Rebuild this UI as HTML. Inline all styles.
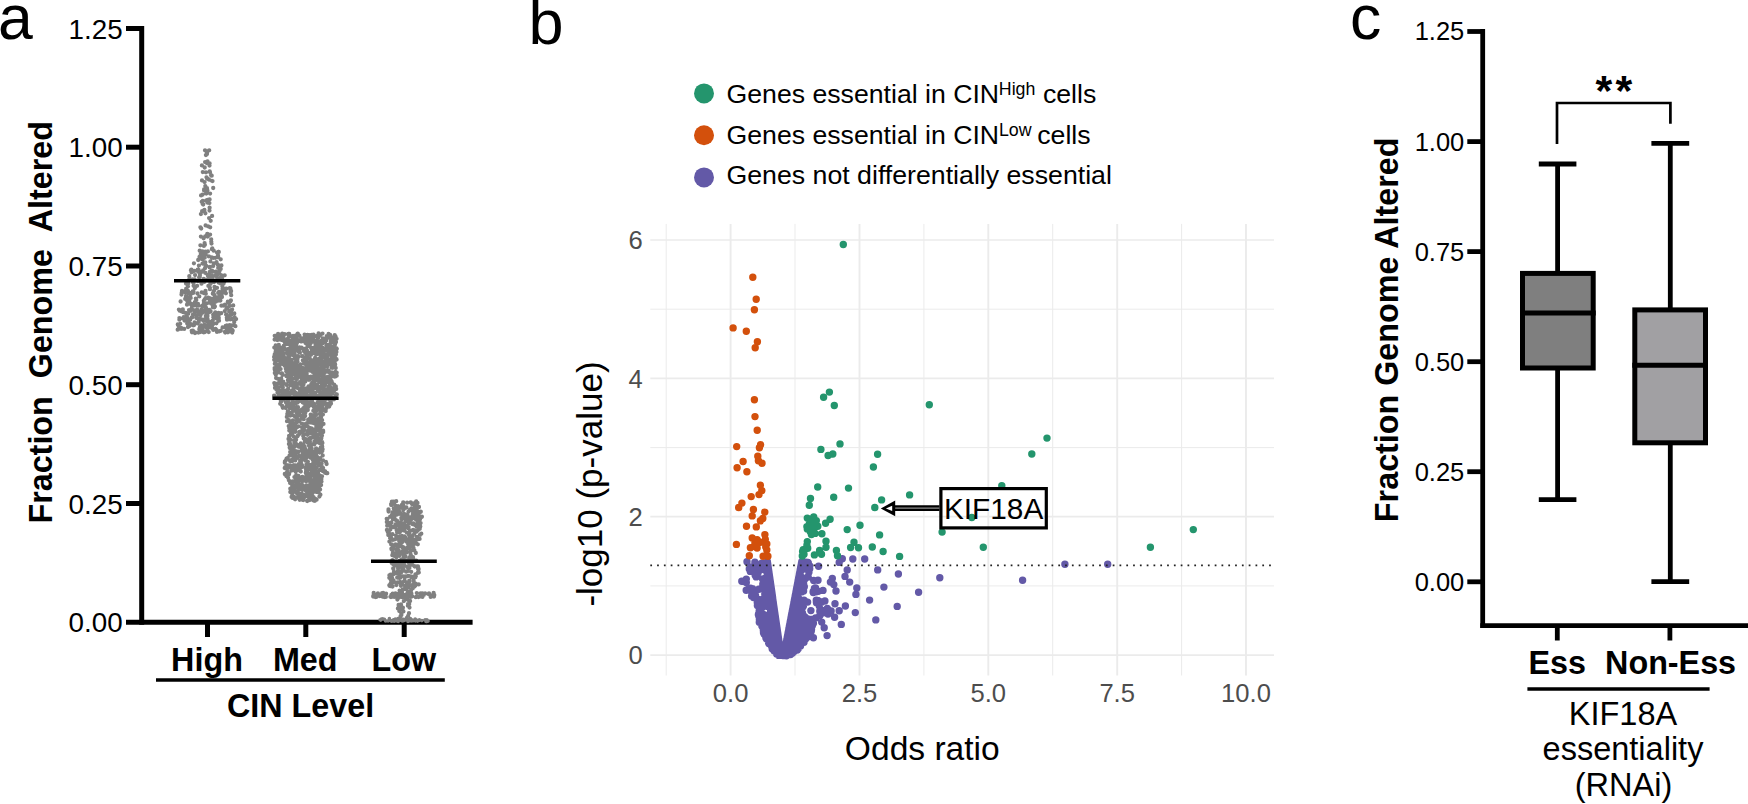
<!DOCTYPE html>
<html lang="en"><head><meta charset="utf-8"><title>Figure</title>
<style>html,body{margin:0;padding:0;background:#fff;overflow:hidden}svg{display:block}text{font-family:"Liberation Sans", Arial, Helvetica, sans-serif;fill:#000}.b{font-weight:bold}.g{fill:#4d4d4d}</style></head><body>
<svg width="1748" height="804" viewBox="0 0 1748 804">
<rect width="1748" height="804" fill="#fff"/>
<g id="panel-a">
<text x="-2" y="38.5" font-size="62.5">a</text>
<path d="M203.7 237.8h0M221.5 292.3h0M206 172.3h0M218.8 300h0M189.4 279h0M205.4 213.3h0M197.7 269.6h0M193.2 292.9h0M190.9 270.3h0M188.4 324.7h0M198.4 332.6h0M202.4 312.8h0M212 326h0M212.1 328.2h0M205.8 189.4h0M211.8 257.5h0M218.6 282.6h0M183.3 291.5h0M208.1 226.3h0M230.4 288.4h0M191.8 309.7h0M204.7 299.3h0M216.5 262.1h0M208 326.9h0M227.6 307.7h0M206.1 303.6h0M212 282.1h0M191.7 308.2h0M215.3 257.8h0M227 327.8h0M180.6 301.5h0M213.8 304.5h0M208 280.4h0M205.7 254.7h0M203.1 270.5h0M226.5 288.6h0M222.5 288.9h0M209.7 171.4h0M207.9 251.4h0M207.5 279.6h0M209.6 273.7h0M199.9 273.4h0M225.2 332.6h0M203.8 278.9h0M194.6 279.3h0M207.4 329.7h0M214.1 282.1h0M215 288.7h0M219.5 271h0M196.8 318.2h0M192 332.3h0M197.8 315.1h0M235.4 326.2h0M195.1 275.1h0M212.8 320.6h0M194.6 322.4h0M229.7 325.2h0M200.9 214.1h0M211.2 239.3h0M201.5 283.7h0M194.1 304h0M204.4 324.8h0M189.3 276.2h0M227.8 301.7h0M202.6 203.7h0M221.6 275.4h0M197.1 285.8h0M212 270.6h0M206.3 193.6h0M192.3 279.5h0M212.4 271.8h0M198.2 271.7h0M206.2 192.5h0M200.7 311.6h0M218.2 267.9h0M209.5 321.6h0M179.7 310.7h0M193.9 263.3h0M210.7 220.8h0M207 298.1h0M187.7 318.9h0M196.3 317.7h0M204.2 211.1h0M179.4 319.7h0M222 278.3h0M188 327h0M215.1 288.2h0M208.4 276.5h0M197.4 323.4h0M204.4 262.4h0M187.3 301.1h0M205.6 190.7h0M181.5 294.6h0M203.8 293h0M206.6 313.2h0M209.9 289.2h0M215.5 329h0M211.7 175.7h0M202.6 251.5h0M218.6 315.3h0M229.4 310.7h0M192.2 324.9h0M191.5 272.3h0M207.8 312.9h0M220.7 259.3h0M231.2 325.5h0M227 319.7h0M231.2 312.6h0M203.2 331.1h0M218 255.3h0M201.5 319.4h0M210.1 193.6h0M205.9 155.1h0M190.2 310.9h0M209.8 271.8h0M217.8 274.3h0M226.1 331.6h0M194.7 310.3h0M210.1 234.6h0M234.7 317.4h0M204.4 210h0M182 291h0M201.8 292.3h0M215.3 312.3h0M198 281.2h0M207.5 315.9h0M201.9 331.4h0M187.5 317.8h0M178.9 309.6h0M225.1 292h0M221.2 313.2h0M214.7 296.4h0M214.4 307.3h0M222.6 327.4h0M193.1 325.3h0M186.7 315.7h0M180.2 323.8h0M199.3 296.4h0M230.9 300.4h0M212.8 307.2h0M200.8 254.1h0M205.2 236.5h0M214.9 296.3h0M213.2 314.7h0M216.8 272.1h0M234.2 322h0M230.1 315.2h0M221.4 305.7h0M187.2 320.3h0M219.4 331.3h0M187 304.7h0M210.2 227.3h0M200 274.9h0M201.7 201.8h0M217 252.6h0M216.4 262.6h0M224.9 331.8h0M205.6 225.4h0M193.5 291.3h0M190 323.6h0M229.6 305.9h0M227.8 330.1h0M220.7 268.9h0M188.4 298.3h0M216.6 318.2h0M206.4 200.4h0M181.1 328.9h0M184.4 318.5h0M210 172.2h0M200.5 315.2h0M191.8 317.5h0M204.9 244.8h0M182 310.1h0M222.8 282.5h0M219.5 295.3h0M234.3 313.5h0M211.5 243.5h0M206.5 177.3h0M208.4 285.9h0M217 287.8h0M182.8 318.3h0M200.1 319h0M223.2 305.6h0M202.5 328.3h0M201.4 272h0M183.7 317.2h0M218.5 312.9h0M195.8 298.6h0M199.7 250.7h0M220.6 283.4h0M198.7 305.6h0M207.8 275.5h0M204.6 243.2h0M212.3 248.4h0M231.9 329.6h0M208.3 327.6h0M218.8 317.9h0M214.9 306.5h0M189 293.4h0M189 310.1h0M186 296.2h0M193.8 304.8h0M182.8 309.5h0M228.2 325.7h0M209.6 199.4h0M220.4 278h0M209.5 323.1h0M225.4 327.6h0M220.8 330.8h0M201.5 309.3h0M179.9 327.6h0M195.1 323.5h0M196.3 300.1h0M209.4 327h0M209.3 309.9h0M214.5 329.4h0M209.7 267.4h0M214.9 317.6h0M200 332.2h0M216 299.1h0M200 329.1h0M220 297.1h0M187.8 290.7h0M193.1 282.5h0M199.1 277.4h0M220.4 330.8h0M206.1 307.8h0M185.6 312.9h0M192.9 330.7h0M218.9 299.3h0M236.1 319.1h0M232.1 309.6h0M202.2 330.3h0M194.9 302.1h0M222 297.1h0M216 301.6h0M193.9 271.1h0M230.7 319.3h0M217.7 257.2h0M229.1 330.9h0M198 303.9h0M231.2 295.2h0M215.8 271.7h0M219 320.7h0M209.9 287.8h0M213.3 317.3h0M209.4 203.1h0M206 265.9h0M223.6 283.6h0M197.1 309.6h0M229.2 311.6h0M194.3 270.9h0M207.4 190.5h0M191.4 310.1h0M204.7 257.7h0M207 154.1h0M213.2 188h0M186 283.6h0M217.5 280.8h0M219 300.7h0M201.1 195.4h0M212.5 181.1h0M194.4 304.4h0M213.9 290.9h0M201.3 325.3h0M210.6 311.2h0M213.6 291.5h0M189.3 301h0M198.6 269.8h0M203.6 271.5h0M207.5 199.9h0M217.6 315.2h0M202.5 194.7h0M190.2 319.7h0M229.7 328.2h0M205.5 251.7h0M209.1 218.1h0M233.5 325.2h0M210.5 325.7h0M212.7 323.5h0M212.5 299.1h0M209.6 207.7h0M206.6 151.1h0M231.1 291h0M225.7 325.9h0M209.2 276.5h0M223.3 281h0M212.7 277.8h0M203.5 332.3h0M204.5 281.8h0M181.6 311.4h0M215.2 316h0M230.6 290.8h0M211.3 241.8h0M202.2 259.2h0M204.9 332h0M218.2 292.9h0M208.9 256.4h0M199.6 328.1h0M202.8 172.1h0M194.8 312h0M218.3 251.9h0M209.2 164h0M177.8 324.5h0M216.4 329.8h0M224.4 281.4h0M207.7 320.1h0M218.7 297.1h0M209 312.4h0M212.1 276h0M205.8 293.8h0M232.7 330.7h0M209.9 267h0M208.7 332.1h0M190 293h0M222.8 291.4h0M220.5 280.9h0M197.6 311.2h0M204.1 190.4h0M194.9 288.1h0M198.2 260h0M209.8 298.2h0M186.2 288.7h0M200 318.7h0M209.1 310.6h0M204.1 189.3h0M226.8 317.8h0M208.2 274.8h0M206.4 236.2h0M211.1 276.6h0M225 304.6h0M211.6 276.6h0M203.6 238.3h0M218.2 257.1h0M231.4 314.7h0M200.4 227.3h0M205.3 186.1h0M214 294.6h0M227.7 316.6h0M195.1 332.3h0M207.7 236.5h0M222.4 286.6h0M185.2 298.9h0M203.8 300.8h0M207.5 325.1h0M225.4 288.8h0M227.9 332.3h0M188.3 297.7h0M207 321.4h0M232.2 332.5h0M200.7 328.1h0M210 323.6h0M212.1 323.7h0M217.8 264.7h0M217 277.6h0M211 300h0M212.1 215.9h0M212.6 282.2h0M226.4 308.7h0M181.7 293h0M213.7 250.7h0M207 178.6h0M213.3 329.9h0M211 175.1h0M209.7 279.4h0M230.5 301.3h0M213.8 263.5h0M206.3 265.8h0M233.2 305.4h0M231.9 318.9h0M198.9 319.6h0M220.4 300.5h0M216.5 318.5h0M189.1 323.1h0M202 180.4h0M221.4 265.5h0M193.6 285.8h0M179.4 318.1h0M216 271.9h0M207.3 235.4h0M203.4 254.9h0M190.4 295.1h0M202.8 305.3h0M188 286.3h0M203 312h0M202.5 306.2h0M226.1 314.5h0M205.6 309.9h0M204.1 310.4h0M208.2 297.6h0M193 314.5h0M205.4 272.9h0M218.6 320.8h0M200.1 326.4h0M221.6 295h0M204.7 167.5h0M209.6 163.4h0M184.5 320.5h0M217 331.9h0M234.1 325.3h0M207.1 303.3h0M202.5 306.6h0M185.4 292.5h0M210.4 261.4h0M191 304.4h0M211.9 249.2h0M206.9 153.1h0M209.8 300.6h0M213 324.2h0M194.5 305.3h0M206.8 163.1h0M220.1 298.2h0M191.7 330.8h0M202.1 211.2h0M177.7 329.7h0M201.2 228.5h0M201.9 165.4h0M205.1 162.1h0M191 304.5h0M204.1 320.9h0M193.7 282.4h0M188.3 313.7h0M229.1 319.2h0M200.9 236.6h0M205 268.2h0M189.4 326h0M194.5 314.6h0M191.4 269.6h0M205.5 265.5h0M228.3 325.9h0M223.5 292h0M184.2 328.9h0M207.3 233.8h0M199.3 329.2h0M205.5 290.9h0M207.5 161.3h0M204.4 326.5h0M213 302.4h0M219.3 273.6h0M219.7 269.7h0M181.6 328.1h0M202.8 259.3h0M226.3 331.5h0M197.9 311.3h0M203.9 245.9h0M192.1 317.4h0M198.7 321.9h0M200.4 245.3h0M211.9 180.8h0M207 188.2h0M209.4 324.5h0M205.6 298.2h0M185.6 291h0M198.5 259.6h0M203.1 255.6h0M183.3 312.2h0M211 303.5h0M178.6 326h0M191.8 270.6h0M188.2 283.4h0M224.7 275.3h0M205.8 316h0M214.5 287h0M196.8 318.2h0M199.8 277h0M214.1 299.3h0M203.2 204.5h0M210.3 283.9h0M198.4 312.2h0M225.9 293.3h0M230.7 292.3h0M215.5 275.1h0M209.5 210.6h0M206.7 327.5h0M209.5 165.5h0M213.3 257.9h0M216.4 323.3h0M202.5 263.6h0M218.8 251.9h0M199.5 256.9h0M207.5 318.7h0M195 333h0M229.9 331h0M202.9 305.5h0M212.8 293.7h0M194.1 325.1h0M208.9 179.5h0M224.8 311.1h0M218.6 297.7h0M202.8 201h0M190.7 297.9h0M229.5 331.3h0M189.4 303.1h0M182.3 310h0M203.5 320.8h0M205 319.2h0M187.2 323.6h0M219 292h0M229.8 288.1h0M191.3 304h0M185.8 298.3h0M204.6 182.1h0M205.3 262.3h0M196.6 305.5h0M203.9 303.1h0M197.5 293.5h0M214.9 329.4h0M204.8 305.8h0M192.8 291.5h0M198.9 265.6h0M196.9 316.3h0M212.5 322.1h0M226.6 307.4h0M213.2 266h0M228.9 303.2h0M226.9 325.3h0M203.4 263.2h0M223.9 305.3h0M207.3 202.6h0M186 317.8h0M205 150.3h0M209.2 150.3h0M207 153.6h0M292.3 494.2h0M297.2 470.3h0M289.9 408.1h0M336.6 359.6h0M297.9 487.7h0M294.1 337.6h0M309.3 389.5h0M282.7 337.4h0M285.5 395.9h0M323.1 471.2h0M322.2 446.4h0M312.7 481.6h0M332.2 367.8h0M329.5 385.9h0M322 476.3h0M299.2 434h0M296.9 420.8h0M306.2 477.5h0M295.1 438.1h0M278.8 392h0M293.3 458.6h0M297 416.4h0M306.9 388.5h0M321.6 463.4h0M296.9 379h0M334 376.4h0M290.2 379.8h0M312.2 455.8h0M283.6 338.6h0M320.7 356.7h0M302.3 356.2h0M314.4 444.3h0M293.6 469.9h0M303.6 427h0M301 461.8h0M290.4 344.6h0M308.4 405.3h0M284.2 339.4h0M335.9 374.1h0M303.7 494.9h0M324.4 371.5h0M306.5 424.5h0M282.2 333.6h0M293.8 423.9h0M303.3 349h0M331 374.5h0M305.9 490.7h0M306.9 399.8h0M297.1 341.6h0M292.3 391.3h0M310.6 497.2h0M316.3 354.4h0M304.6 334.6h0M292 371.3h0M321.5 392.1h0M303.2 370.3h0M291.8 430.2h0M334.4 387h0M316 415h0M304 434.4h0M304.7 425h0M316.3 491.9h0M290.4 349.9h0M310.9 376.7h0M322.7 455.5h0M279.5 361h0M289.2 473.8h0M316.9 349.9h0M308.1 367.4h0M306 491.1h0M304.1 424.5h0M293.2 446.1h0M329.5 337.8h0M299.5 366.6h0M304.6 452.4h0M310.8 484.3h0M309.7 448.9h0M314 376h0M329 334.7h0M320.8 447.5h0M319.1 438.9h0M286.6 384.9h0M316.3 438h0M290 372.7h0M328.1 406h0M326.7 336.2h0M311.6 444.9h0M275.8 352h0M321.2 381.2h0M315.9 430.6h0M300.5 461.9h0M309.1 353.7h0M301.6 484.9h0M314.9 388.2h0M278.9 368.3h0M316.2 456.5h0M290.8 430.1h0M323 404.9h0M296.1 439.8h0M334.2 349.9h0M297 385.1h0M284.6 340.6h0M332 353.5h0M294.6 374.4h0M316.7 350.3h0M288.7 357.4h0M316.9 439.9h0M305.7 388.7h0M314 452.9h0M326.4 473.1h0M297.2 373.3h0M296.3 346.5h0M334.4 389.6h0M296.7 337.7h0M303.3 478.4h0M298.7 396.7h0M294 374.3h0M295.6 480.5h0M295.6 361.2h0M295.2 350.4h0M283.1 382.1h0M289.8 466h0M322.3 386.7h0M311.5 404.9h0M311 386.3h0M300.3 398.5h0M336.6 338.8h0M331.6 392.2h0M274.7 354.3h0M283.3 357h0M311.1 417.8h0M304.3 389.9h0M278.2 396.4h0M306.9 391.1h0M305.2 449.9h0M287.4 343h0M313.2 348.9h0M305.8 472.7h0M318.9 474.8h0M294.6 402.2h0M324.2 361.7h0M297.2 457.8h0M312.4 454.5h0M307.3 441h0M314.6 347.7h0M304.4 410.1h0M326.6 382.3h0M283.2 399.6h0M326.9 407.2h0M298.8 493.4h0M291.5 385.4h0M302.3 476.8h0M291.9 432.7h0M295 425.2h0M307.1 368.3h0M312 482.2h0M299.9 432.4h0M304 351.3h0M293.5 364.2h0M288.1 372.3h0M292.6 409.2h0M321.2 464.2h0M290.2 354.8h0M302.6 428.1h0M290.1 460.3h0M278.2 372.4h0M305.3 412.7h0M298.6 451.6h0M312 493.8h0M306.5 468.3h0M315.9 348.8h0M301.5 373.3h0M301.5 485.3h0M325.4 349.4h0M277.5 392.7h0M291.1 430.5h0M310.6 367.2h0M288.9 444.1h0M294.3 343.8h0M331.9 397.8h0M316.2 369.5h0M315.6 344.4h0M295.5 392.7h0M314.8 488.7h0M324.6 392.8h0M285.2 467.1h0M316.3 386.3h0M308.9 495.5h0M284.3 361.2h0M326 371.6h0M288.7 426.1h0M299.4 383.3h0M287 474.6h0M299.6 347.4h0M277.4 352.9h0M331.6 367.7h0M297.5 361.6h0M303.5 488.1h0M314.8 393.1h0M296.1 371.7h0M314.2 378.3h0M303.6 402.8h0M321.2 352.2h0M290.3 492.1h0M308.5 386.4h0M314.8 409.3h0M315.8 386.8h0M332.7 397.6h0M319.9 431.2h0M310.1 418.8h0M298.6 393.8h0M299.7 410.5h0M311.5 428.3h0M323.1 430.7h0M308 430.7h0M330.4 374.8h0M289.3 441.4h0M296.9 342.9h0M319.9 410h0M299.4 340.8h0M286.5 476.2h0M277.3 365.6h0M335.1 364.7h0M293.6 468.9h0M323.5 401.5h0M296 409.9h0M327.2 370.4h0M315.9 481.9h0M295.8 423.2h0M291 468.2h0M285.4 364.4h0M327.1 378h0M293.3 410.9h0M316 414.1h0M326.7 347.1h0M309.9 335.7h0M285.1 343.3h0M321.3 450h0M278.8 344.9h0M297.9 435.6h0M300.3 389.4h0M286.5 371.2h0M283.8 356.3h0M324.6 373.1h0M320 448.8h0M322.8 343.1h0M333.9 391.3h0M307.8 410h0M318.6 333.5h0M315.8 470.5h0M298.8 489.8h0M281.3 373.5h0M319.7 459.5h0M329.3 354h0M310 396.3h0M290.4 423.4h0M315.3 362.2h0M312 464.7h0M315.3 347.1h0M300.5 377.1h0M307 423.1h0M315 474.4h0M318.7 375.7h0M289.4 396.9h0M288.7 360.4h0M321 359.6h0M288.3 369.3h0M326.3 393.6h0M293 345.1h0M317.4 336.4h0M317.9 462.7h0M291 354.8h0M306.6 351.4h0M304.9 456.5h0M291.3 470.7h0M306.5 426.1h0M280.2 403.8h0M292.4 493.2h0M311.4 467h0M320.2 349.1h0M313.8 500.3h0M283 340.2h0M287.9 380.2h0M320.5 415.7h0M328.9 398.2h0M305.6 488.2h0M275.7 352.7h0M288.2 399.8h0M314.7 353.6h0M297.2 347.1h0M318 486.1h0M288.3 355.3h0M317.7 376.9h0M323.7 375.4h0M310.6 385.9h0M315.1 358h0M320.1 433.5h0M282.8 407.8h0M322.4 379.2h0M295.3 460.4h0M330.1 335h0M315.4 375.8h0M330.8 350.2h0M297.5 436.3h0M316.1 350.6h0M287 421.2h0M298.4 488.3h0M292.9 449.9h0M305.2 424.2h0M279.4 348.8h0M297.5 457.8h0M290.1 415.7h0M296.4 375.5h0M292.3 485.8h0M312.9 397.9h0M304.2 363.7h0M315 347.4h0M293.5 348h0M294.5 371.3h0M281.4 335.8h0M321.8 383.4h0M281.1 386.4h0M313.5 369.8h0M294.9 491h0M306.3 474.4h0M324.3 396.8h0M290.4 426.4h0M290.6 415.2h0M310.4 454.3h0M287.8 411.3h0M321 463.9h0M327.1 347.6h0M310.9 473.9h0M293.8 465.3h0M312.2 466.2h0M301.1 384.8h0M318.7 441.3h0M318.7 430.7h0M299.4 375.6h0M329.6 353.3h0M309.7 500h0M314.2 470.5h0M316.6 362h0M287.1 374.4h0M316.4 459.6h0M279.4 365.9h0M280.6 369.1h0M290.8 336.2h0M304.8 459.7h0M333.8 365.4h0M314.9 360.5h0M303.1 385.2h0M309.6 455.9h0M285.8 368.7h0M312.3 383h0M285.6 407.9h0M318.3 371.2h0M311.5 384.5h0M304.6 339.7h0M301.9 409.6h0M290.6 367.8h0M312.1 456.7h0M274.3 383.1h0M323.7 470.5h0M328.9 361.6h0M290.1 381.5h0M288.4 333.9h0M300.6 480.5h0M312.6 475.7h0M290.2 392.4h0M290.7 369h0M308.1 406.8h0M336.5 359.2h0M322.2 342.4h0M303.7 417.3h0M318.8 463.7h0M313.5 334.7h0M284.8 462.8h0M318.7 463.7h0M302.2 489.5h0M291 375.9h0M328.5 352.2h0M322.5 333.6h0M322.1 410.4h0M300.4 399.3h0M335.9 354.6h0M302.7 489.8h0M307.5 363.2h0M317.1 457h0M320.9 476.1h0M328.3 352.4h0M298.7 497.3h0M313.9 349.1h0M334.9 341.6h0M286.4 384.4h0M306.5 480.2h0M288.5 381.4h0M313.8 365.2h0M303.9 427.9h0M285.6 361.3h0M296.2 468.4h0M317 352.5h0M312.8 415.3h0M322 435.4h0M320.3 405.5h0M309 445.8h0M307.6 370.6h0M318.2 451.3h0M295.7 336.7h0M328.3 371.9h0M317.1 370.9h0M282.2 406h0M311.9 420.9h0M277.3 356.5h0M286.7 341.8h0M325.4 361.3h0M308.7 402.3h0M317.5 379.5h0M321.5 352.8h0M275.8 368.6h0M325.6 397h0M282.8 360.6h0M313.5 336.2h0M314.9 500.8h0M317 344.9h0M305.1 399.5h0M279.5 381.7h0M315.7 377.8h0M316.3 490.8h0M317.1 408h0M302.7 432.8h0M293.5 451.5h0M286.6 475.1h0M284.9 360.1h0M300 382.2h0M283 382.2h0M281.4 348.5h0M320 350.4h0M289.1 435.8h0M323.5 423.9h0M307.6 377.3h0M276.1 378.1h0M304.8 456.2h0M300.5 410.4h0M319.8 406.1h0M294.3 489.3h0M301.6 383.1h0M292.7 354.6h0M291.6 492.4h0M281.6 384.8h0M331.9 382.8h0M315.3 373.7h0M278.1 352h0M319.9 413.9h0M296.1 345.6h0M284.6 365.7h0M294.3 468.2h0M294.5 442.5h0M319.4 486.3h0M278.7 389.7h0M314.4 368.9h0M283.2 381.6h0M288.2 404.3h0M275.6 351.9h0M281.8 360.1h0M334.1 384.6h0M291.8 365.7h0M326.6 382.6h0M332.8 346.9h0M327.2 396.8h0M287.3 458.1h0M304.9 336.7h0M319.9 335.5h0M310 491.2h0M292.8 382.1h0M321.1 420.1h0M319.9 389.5h0M311.5 339.1h0M300.3 467.9h0M295.9 378.8h0M289.3 428.2h0M302.2 372.5h0M307.5 432.6h0M314.4 484.3h0M283.8 383.7h0M291.9 397.7h0M303.4 498h0M325.9 396.9h0M307.7 426.5h0M317.1 372.9h0M310.6 343.2h0M292 450.2h0M308.9 487.5h0M310.6 477h0M295.6 485.7h0M303.3 369.4h0M306.4 485.5h0M294.3 423.9h0M294.4 477.1h0M309 473.9h0M331.3 388.8h0M289.5 429.9h0M292.6 369.3h0M297.8 333.6h0M315 477.8h0M314.6 381.5h0M324.3 362.9h0M278 387.6h0M303.1 450.1h0M301.6 347.6h0M315 441h0M312.4 360.4h0M300.3 446.1h0M276.2 397.8h0M319.9 450.9h0M314.2 371h0M292.1 379.1h0M333.3 361.1h0M307.5 369.7h0M318.6 438.5h0M311.1 494.5h0M329 352h0M295.6 403.8h0M332.6 348.3h0M319.6 386.8h0M318.1 367.9h0M301.1 479.9h0M326.3 395.2h0M295.6 445.7h0M303.4 413.8h0M282.8 387.2h0M275.8 374.8h0M310 456.4h0M288.5 438.9h0M307.6 434.8h0M288.2 364.4h0M313.1 379.2h0M301.3 378.2h0M312.2 499.7h0M285 365.7h0M313.7 497.3h0M276.3 360.8h0M296.3 497.9h0M274.6 339.6h0M298.7 494.4h0M307.1 337.5h0M302.5 466.8h0M326.4 338h0M336.5 394.4h0M287.4 403.6h0M322.1 385.9h0M295 387.7h0M296.8 412.8h0M293.7 424.1h0M316.6 499.7h0M314.7 464.5h0M294.3 403h0M311.9 489.9h0M332.3 388.8h0M298.3 413.2h0M294.6 358.2h0M332.7 341.5h0M327.4 345.2h0M307.7 364.4h0M321.3 451.9h0M292.8 405.9h0M326.5 398.7h0M289.5 374.7h0M308.7 491.8h0M318.3 479.2h0M289.5 377.9h0M315.1 353.1h0M306.4 458h0M296.2 482.8h0M307.9 368.6h0M320.1 370.5h0M296.7 397h0M286.2 371.2h0M318.7 492.6h0M328.2 386.8h0M316.4 467.8h0M326.1 404h0M302.5 398.6h0M316.3 427h0M306.5 360h0M303.5 384.5h0M288 477.8h0M287.5 342.9h0M319.1 378.8h0M276.4 389.4h0M294.2 468.1h0M286.7 465.1h0M316.1 448.5h0M321.9 401.8h0M311.4 451.3h0M322.4 402.4h0M320.2 358.5h0M322.4 343.4h0M283.7 346h0M292.1 461.2h0M315.5 423.3h0M289.5 350.5h0M299.6 486.4h0M326.2 390h0M298.8 494.8h0M323.9 386.2h0M330.2 348.1h0M290.4 347.4h0M305.2 406.2h0M288.3 343.8h0M296.8 370.7h0M331.6 356.5h0M298 407.2h0M325.3 384.3h0M294.6 392h0M333.6 342.1h0M289.9 394.1h0M321.8 396.3h0M321.4 380.4h0M295.8 437.6h0M327.1 366.7h0M308.5 341.2h0M290.6 439.9h0M310.1 418.8h0M311 476.2h0M317.4 387.1h0M294.6 352.9h0M309.5 391.8h0M316.7 360.7h0M275.4 348.3h0M305.5 467.6h0M308.6 364.8h0M309.3 335.2h0M334.8 376.5h0M295.4 476.2h0M310.1 489.7h0M295.7 374.9h0M311.2 488.1h0M296.4 344.2h0M292.2 369h0M287.6 458.7h0M296.3 417.8h0M294.4 497.1h0M300.6 383.3h0M326.4 345.5h0M300.9 466.6h0M313.8 423.2h0M274.1 395.7h0M301.8 388h0M318.3 398.6h0M314 378.5h0M330.5 352.6h0M320.2 350.9h0M314.8 498.7h0M313.3 338.2h0M295.6 471.8h0M323 467.8h0M289 334.1h0M304.9 390.9h0M300 393.2h0M336.4 352h0M283.8 346.7h0M316 406.5h0M335.5 371.9h0M318.6 349.1h0M321.3 426.2h0M290 341.7h0M304.1 497.4h0M304.6 357.4h0M331.9 372.5h0M301.5 458.1h0M320 458.1h0M320.3 451h0M294.1 366.3h0M295.8 397.1h0M319.3 395.6h0M313.2 455h0M295.9 407.6h0M304.2 407.3h0M278.6 388.3h0M302.1 368.8h0M275.3 347.6h0M323.3 365.3h0M308 366.6h0M320.7 432h0M305.2 370.3h0M279 339.6h0M297 397.3h0M292.8 352.3h0M301.2 338.1h0M290.4 363h0M303.2 436h0M282.1 334.6h0M283.8 358.4h0M293.5 393.7h0M289.3 365h0M294.2 497.5h0M298.2 368h0M290.8 434.4h0M313.4 462.4h0M309.3 487.3h0M307 433.4h0M303.2 401.3h0M297 365.2h0M291.6 496.9h0M317 384.6h0M310 478.3h0M319.7 374.3h0M294.1 468h0M322.9 341.3h0M327.1 382.3h0M311 479.7h0M318.3 337.4h0M275.7 345.5h0M297.4 356.1h0M284.2 392.1h0M318.2 427.1h0M321.1 374.1h0M319.1 489h0M288.6 335.4h0M330.2 400.6h0M283.9 347.3h0M306.3 393.4h0M320.3 427.9h0M302.6 391.3h0M318.5 343.1h0M309.2 467.9h0M290 439.4h0M327.9 351.2h0M301.1 381.8h0M333.3 387.8h0M306.7 478h0M296.1 437.6h0M318.4 352h0M317.6 402.6h0M311.1 438h0M306.1 368h0M300.8 471.5h0M326.3 364h0M296 340.5h0M287.8 373.1h0M298.1 366.5h0M317.3 398.9h0M324.4 378.7h0M295.1 499.3h0M315 442.4h0M292.4 459.6h0M335.6 336.8h0M322.4 367.4h0M317.8 353.1h0M314.6 409.7h0M303.3 408.3h0M309.5 363.5h0M336.7 372.7h0M323.4 374.9h0M313.4 351.5h0M290.4 385h0M334.8 348.8h0M321.4 437.6h0M287.2 471.6h0M287.4 365.2h0M322 466.9h0M281.7 347.6h0M326.9 338.1h0M293.5 364.1h0M318 359.2h0M320.8 396.3h0M310.9 387.5h0M321.1 372.6h0M335.7 395.2h0M322.2 347.6h0M322.9 414.5h0M322.9 340.1h0M288.9 474.6h0M290.2 407.1h0M291.5 378.4h0M311.5 377.3h0M299.6 470.5h0M305 438.7h0M301.9 423.6h0M309.6 339h0M307.3 403.9h0M276.2 347.6h0M325.1 472.8h0M315.9 484.7h0M313.5 384.9h0M307.8 363.2h0M292 351.9h0M286.3 350.1h0M292.5 342.1h0M313.9 437h0M327.5 376.8h0M294 451.9h0M299.2 421.4h0M318.4 461h0M309.5 379.7h0M319.5 350.6h0M286.5 340.9h0M333.3 367.5h0M323.7 365.9h0M292 373.8h0M323 460.3h0M315.8 486.5h0M327 395.1h0M322.8 338.3h0M302.8 477.6h0M282.9 358.7h0M291.7 390.8h0M292.5 481.3h0M320.2 409.2h0M318.9 389.5h0M278 383.4h0M324.9 377.5h0M335.1 364.2h0M276.3 336.9h0M331.9 357.9h0M298.8 340.5h0M320.7 449.4h0M284.8 358.2h0M295.7 384.1h0M290.1 465.5h0M297.2 339.7h0M323.2 432h0M310.7 438h0M316 378.6h0M295.7 491.9h0M323.3 409.2h0M331.1 339.9h0M319.9 424.7h0M298.1 486.2h0M316.5 450.5h0M314 377.5h0M287.2 394h0M335.5 376.4h0M293.4 341.2h0M297.9 456.8h0M309 379.8h0M310.3 484h0M274.3 347.6h0M276.8 364.7h0M325.2 471.3h0M314.7 458.7h0M274.1 356.9h0M302.6 445.8h0M303.7 438.6h0M276.8 385.3h0M322.4 443h0M292.6 497.9h0M290.4 443.8h0M311.4 383.8h0M292.4 421.5h0M303.1 433.6h0M323.3 362.5h0M283.6 336.9h0M288.7 356.5h0M296.5 475.5h0M276.4 335.6h0M313.3 410.8h0M319.4 496.6h0M316.5 386.1h0M318.6 380.9h0M317.4 387.9h0M313.4 434.6h0M330.7 341.4h0M333.8 355.2h0M304.6 400.2h0M300.4 374.5h0M297.2 400.8h0M336.2 389h0M307.5 442.5h0M335.7 368h0M303.7 447.9h0M275.9 350.3h0M284.8 473.9h0M306.9 342.1h0M308.9 378.9h0M329.8 393.9h0M316.9 459.7h0M306.1 348.3h0M310.6 367.4h0M300.6 445.4h0M288.5 393.1h0M314.4 367.1h0M311.9 422.7h0M317.8 481h0M295 454.6h0M306.5 486.3h0M281.8 399.3h0M290.1 461.1h0M330.8 401.9h0M293.8 385.5h0M314.3 479.9h0M299.1 455.3h0M305.1 416h0M310 352.8h0M311.7 363.3h0M308.2 419.6h0M299 351.9h0M321.3 340.8h0M319.9 345.6h0M290.5 378.3h0M286.4 371.3h0M282 361.4h0M296.7 416.6h0M296.4 358.9h0M290.9 406h0M297.3 402.7h0M302.5 416.7h0M317.1 450.3h0M317.8 482.6h0M304.2 375.7h0M291.4 360h0M286.8 344.1h0M313.1 360.9h0M333.8 399.3h0M298.1 469.1h0M298.9 350.2h0M308.6 353.9h0M281.4 384.4h0M292.4 339.1h0M333.2 359.9h0M316.4 395.6h0M295.5 465.5h0M321.3 421.1h0M294.7 351.5h0M319.9 406.9h0M311.3 470.5h0M309.8 422.3h0M317.2 379.9h0M295.8 337.1h0M312.7 371.9h0M299.6 389.6h0M290.3 488.7h0M330.1 394.6h0M296.8 452.2h0M299.7 415.3h0M292.1 431.2h0M274.2 359.8h0M309.1 488.6h0M298.2 495.9h0M289.9 412.7h0M295.3 452.8h0M297.3 408.2h0M284 397.3h0M297.3 452h0M306.8 355.4h0M288 363.8h0M289 377.6h0M314 347.7h0M280.4 354.6h0M308.5 406.8h0M285.6 364.4h0M306.3 390.4h0M295.8 443.3h0M310.8 360.2h0M331.2 376.3h0M313.2 436.6h0M305.2 392.2h0M311.3 394.3h0M317.8 390.6h0M299.9 352.7h0M300.1 461h0M324.7 348.9h0M317.7 359.9h0M319.6 387.3h0M318.9 401.8h0M314.6 407.9h0M331.4 364h0M288.9 414.4h0M309.7 469.1h0M286.9 368h0M303.8 419.2h0M307.2 358.3h0M322.8 471h0M301.8 411.1h0M278.2 366.3h0M305.5 343h0M310.2 370.7h0M305.1 411.3h0M286.9 340.6h0M322 424.4h0M290.1 351.4h0M327.5 359.7h0M281.1 401.7h0M289.1 444.2h0M314.9 414.9h0M276.9 338.9h0M283.2 357.2h0M279.9 398.2h0M305.5 403.5h0M292.6 340.4h0M306 481.2h0M319.6 452.5h0M305.3 381.5h0M305.1 415.6h0M312.1 433.4h0M307.6 335h0M330.8 379.9h0M329.9 390.2h0M320.3 368.4h0M293.6 481.4h0M294.9 416.5h0M316.8 422.4h0M320.4 394.1h0M298.7 426.3h0M299.7 499.8h0M292.3 433.9h0M293.3 355.2h0M298.2 410.7h0M287 340.3h0M314.3 404.2h0M329.3 399.6h0M319.5 362.9h0M298 466.6h0M290.8 353.6h0M298.4 480.3h0M314.5 395.8h0M291.9 455.3h0M308.2 469.5h0M333.4 364.9h0M305.2 460.6h0M314 417.8h0M299.1 411.5h0M310.2 344.2h0M304.6 446.4h0M321.6 351.3h0M290.4 350.1h0M283 349.5h0M313.2 341.7h0M333.5 389.2h0M281.8 381.5h0M277.5 389.6h0M324.3 365.9h0M314.9 483.6h0M293.7 391.3h0M319.8 479.6h0M280.8 401h0M306.2 339.8h0M306.4 464.6h0M286.3 342.3h0M307.3 470.9h0M288.4 420.6h0M313.5 335h0M323.8 389.2h0M301.2 463.9h0M284.8 394.7h0M301.6 450.3h0M297 383.8h0M311 399.5h0M335.3 358.2h0M292.6 449.2h0M287.6 391h0M316.1 478.4h0M316 342.5h0M286.5 358.7h0M289.1 443.8h0M275.4 355.2h0M287.3 414h0M286.7 370.3h0M281.5 395.1h0M312.5 419.2h0M282.8 387.4h0M310.4 454.4h0M311.9 429.6h0M294.8 394.9h0M295 378.1h0M331.9 364.7h0M322.3 378.4h0M324.1 348.7h0M316.3 453.5h0M290.7 375.7h0M301.8 418.5h0M288.9 381h0M316.2 363.8h0M297.4 466.4h0M302.5 499.8h0M315.4 361.4h0M313.7 429.6h0M332.1 342.1h0M297.5 333.9h0M289.2 436.6h0M288.3 352.4h0M299.4 335.6h0M323.4 340.4h0M324 470.9h0M326.2 397.1h0M298.7 374h0M304 360.5h0M292.4 489.8h0M336.7 375.7h0M319.4 373.8h0M306.2 450.9h0M289.9 429.5h0M330.8 359.5h0M290.2 452h0M327.6 397.3h0M314.4 441.3h0M293.8 388h0M321.8 393h0M292.3 495.6h0M324 352h0M274.7 335.8h0M330.1 404.5h0M320 354.7h0M275 387.9h0M308.1 497.1h0M309.5 427.9h0M315.2 436.4h0M306.6 392.5h0M311 354.8h0M331.7 381.7h0M284.5 390.6h0M298.9 352h0M315.5 341.4h0M301.2 445.6h0M310.2 353.1h0M319.2 424.6h0M290.1 447.7h0M302.1 481.4h0M314.8 408h0M321.2 348h0M295.1 349.5h0M315.9 420.7h0M302 387.3h0M312.9 383.2h0M306.7 373.9h0M287.9 338.7h0M283.4 396.1h0M305.1 413.1h0M315 348.4h0M278.3 390.9h0M321.1 485.1h0M277.9 383.3h0M301.6 399.4h0M303.4 480.3h0M318.7 396.8h0M301.9 484.3h0M336.8 394.4h0M309.5 486.9h0M317.9 479.8h0M311.5 338.5h0M298.4 481.8h0M304.7 360.7h0M285.3 392.6h0M288.9 420.2h0M297.1 398.3h0M303.2 444.3h0M293.2 487.3h0M321.4 432.4h0M330 359.5h0M310.1 485h0M302 459.3h0M307.1 396.7h0M306.2 369.8h0M285.1 474.5h0M291.2 413.7h0M311.5 444.2h0M321.2 361.1h0M312.2 473h0M300.8 431.3h0M298.7 464.1h0M302.8 376.1h0M318.8 398h0M327.6 362.4h0M285.8 402.2h0M299.7 351.9h0M312.3 467.1h0M319.9 475.8h0M295.4 431.8h0M299.5 370.8h0M311.8 335h0M284.7 334.2h0M329.2 406.5h0M317.2 365.4h0M336 342.1h0M334.3 389.7h0M308.9 346.2h0M324.8 382.6h0M321.4 386.2h0M321.8 414h0M299.4 445h0M295.2 456.7h0M312.7 415.9h0M302.6 340.5h0M305.4 456.5h0M305.3 353.1h0M310.6 404.8h0M307.1 342.8h0M304.3 393h0M326 404h0M287 390.1h0M307.6 454.3h0M297.1 370.9h0M316.7 476.4h0M321.5 481.6h0M295.3 453h0M304.1 430h0M300.3 369.1h0M310.7 414.6h0M319.5 389.5h0M305.6 377.4h0M296.7 422.3h0M305.8 454.2h0M289.2 334h0M292.5 491.7h0M320 373h0M288.8 412.7h0M326.3 350.4h0M293.9 425.6h0M302 465.2h0M286.6 458.6h0M313.6 485.3h0M329.4 364.1h0M315.5 392.9h0M274.5 358h0M331 403.5h0M304 458.2h0M283.5 353.4h0M292.1 399.5h0M296.4 382.9h0M326.6 354.8h0M278.6 358.4h0M292.8 415.1h0M315 464.7h0M311.1 348h0M277.3 340h0M274.9 347.8h0M303.1 417.7h0M315.1 406.6h0M303.6 395.6h0M316 450h0M336.1 348.2h0M316.6 460.6h0M291.2 447.4h0M317.5 350.9h0M309.5 337h0M307.6 345.4h0M321.9 407.3h0M325.6 339.9h0M303.3 380h0M327.5 366h0M331.8 337.5h0M294.1 430.6h0M281.9 363.4h0M295.5 335.7h0M290.9 359.6h0M335.1 338.8h0M302.8 402.5h0M318.7 341.5h0M288.1 465.5h0M330.6 376.4h0M310.8 483.1h0M275.3 361.6h0M307.6 404h0M282 373.5h0M307 398h0M326.1 393.6h0M294.4 446.9h0M292.4 363.4h0M312.6 390.8h0M294.5 336h0M319.9 419.2h0M307.2 364.4h0M289.3 403.2h0M314.5 491.5h0M297.3 427.1h0M305.3 460.2h0M303 368.8h0M299.3 392.9h0M335.8 386.3h0M304.8 337.3h0M295.2 428.3h0M278.7 365.1h0M335.4 343h0M316.4 436.9h0M288.9 474.1h0M315.2 423.8h0M313.5 470.7h0M302.3 428h0M287.6 342.2h0M311.3 419.2h0M305.6 480.2h0M289.8 448h0M301.9 481.2h0M301.7 341.4h0M274.6 368.1h0M316.9 380h0M283.1 364.2h0M332.2 393.6h0M292.9 402.7h0M328.7 370.7h0M300.7 341.3h0M321 417.3h0M302.2 427.4h0M291.8 348.4h0M313.7 407.1h0M334.7 335.1h0M314.2 406.6h0M303.7 497h0M334.6 359.6h0M322.2 350.3h0M327.9 391.9h0M306.5 495.8h0M314.7 434.7h0M322.1 443.4h0M305.5 353h0M323.7 386.8h0M326.6 464h0M315.5 433.5h0M329.1 344.7h0M325.2 358.7h0M319 465.6h0M321.5 399.7h0M313.5 405.9h0M296.6 493.1h0M319.4 362.7h0M315.5 343.2h0M299.2 484.6h0M284.9 461.3h0M327.3 473.2h0M298.4 476h0M305.2 449h0M307 407.1h0M333.5 360.6h0M286.8 375.7h0M307.7 489.5h0M284.3 341.4h0M301.8 457.5h0M312.3 473.1h0M329.8 372.4h0M320.9 364.8h0M317.9 341.6h0M320.6 369.7h0M306.7 480.9h0M319.3 423.5h0M318.3 451.9h0M309.1 477.2h0M298.2 366h0M314.5 463.4h0M311 368.9h0M297 478.8h0M318.4 362.5h0M303 431.4h0M281.2 378.4h0M320.1 489.5h0M295.7 350.6h0M275.6 373.4h0M308.6 439.1h0M335 336.9h0M325.2 341.9h0M317.6 337.7h0M296.4 484.3h0M325.9 461.8h0M335 344.6h0M319.7 392.2h0M326.8 360.9h0M289.7 341.1h0M289.7 447.3h0M329.1 347.5h0M313.3 336.8h0M328.5 380.1h0M319.9 470h0M319 434.6h0M290.9 404.7h0M313.8 433.1h0M316.7 410.8h0M295.2 368h0M288.9 480.3h0M304.9 441.4h0M317.5 489.7h0M310 433.2h0M288.5 404.7h0M282.9 374.8h0M307.9 461.8h0M318.7 401.8h0M298.3 349.7h0M293.3 346.9h0M333.9 388.9h0M274.8 373h0M277.6 336.5h0M301 480.9h0M286.8 474.4h0M323.5 357h0M303.6 452h0M324.3 393.1h0M278.1 334h0M327.6 403.8h0M306.1 471h0M292.1 451.5h0M308.3 419.7h0M332.1 373.5h0M330 345.2h0M309.9 362.1h0M322.7 355.9h0M321.9 342.9h0M286.5 376.2h0M282.8 353.6h0M309.5 464.8h0M302.8 452.9h0M301.4 477.7h0M335.5 336.4h0M322.3 451h0M299.7 494.1h0M276.4 358.4h0M333.7 343h0M332.3 373.4h0M304.2 477.9h0M278.4 347.4h0M308.4 402.8h0M285.9 460.3h0M307.2 493.6h0M300.9 395h0M319.3 484.9h0M296.1 373.5h0M319.8 443.2h0M324.8 363.9h0M287 365h0M312.5 482.3h0M308.1 376.8h0M313.1 482.9h0M311.7 448.7h0M318.8 403.8h0M307.9 367h0M310.5 457.7h0M293.4 468.5h0M330.8 400.3h0M321.3 398.6h0M286.1 361.9h0M300.8 348.1h0M291.5 364.2h0M320.8 410.4h0M313.9 417.2h0M284.7 468.1h0M319.3 381.8h0M310.8 445h0M332.1 389.2h0M280.8 357.2h0M298.3 446.5h0M311.1 417.1h0M326.2 340.6h0M286.7 405.3h0M328.6 333.9h0M320.6 342.5h0M287.5 349.2h0M334.2 398h0M290.3 373.3h0M280.7 337.4h0M334 398.7h0M286.9 406.6h0M306.2 469.8h0M308.2 397.9h0M322.9 369.4h0M301.6 493.7h0M306.5 338h0M308.7 452.4h0M281.6 390.9h0M291.2 349.3h0M302.7 369.3h0M309.6 389.6h0M333.8 362.4h0M309.9 441.2h0M308.3 368.1h0M313.8 377.2h0M314.7 370.5h0M302.2 477.1h0M297.4 359.7h0M314.9 486.4h0M312.6 456.9h0M292.9 420.3h0M307.7 440.1h0M286.8 416.9h0M334.4 353.9h0M308.1 379.6h0M297.7 419.1h0M316.9 372.1h0M277.1 350.4h0M280.6 349.1h0M316.8 425.2h0M313.5 393.1h0M325.5 355.8h0M308.9 480.8h0M294.6 431.7h0M294.8 427.3h0M293.1 335.8h0M335.4 373.9h0M312.8 496.3h0M312.3 401.5h0M282.2 351.7h0M330.3 386.8h0M304.4 389.5h0M311.8 351.9h0M315.8 483h0M293.2 348.3h0M308.2 420h0M329.3 382.6h0M311.8 349.5h0M329.1 337.5h0M301.2 497.6h0M316.2 336.1h0M320.4 494.7h0M293.3 497.1h0M282.5 335.4h0M334 399.3h0M292.5 429.4h0M325.7 411.1h0M326.8 379.2h0M282.3 391.6h0M300.6 364.3h0M330.6 337.5h0M299.4 432h0M302.5 368h0M308.4 430.6h0M306.9 407.4h0M326.5 408h0M314.8 418h0M325.3 391.1h0M322.6 341.9h0M288.2 388.4h0M292.7 390.1h0M296.9 479.1h0M326.6 358.8h0M287.5 458.2h0M319.5 379.6h0M303.4 373.4h0M321.6 384.8h0M297 384.2h0M312.4 395.6h0M303.3 500h0M323.8 367.7h0M298 388.2h0M300.3 447h0M334.5 362h0M274.7 369.5h0M329 377.5h0M306.5 399.8h0M294 397.7h0M276.9 348.1h0M297.3 492.1h0M302.4 376.1h0M314.9 467.3h0M298.9 401.4h0M307.2 355.8h0M322.1 420.2h0M296.1 337.7h0M291.2 490.2h0M293.6 436.6h0M307.4 338.4h0M282.7 394.1h0M296.1 335.4h0M316.7 340.7h0M313.7 500.5h0M309.7 358.2h0M311 481h0M310.9 416.3h0M298.6 356.8h0M295.3 429.5h0M323.5 349.4h0M299.3 421.1h0M300.8 443.5h0M318.4 350.7h0M306.4 374.5h0M305.8 468.5h0M317.6 347.5h0M314.6 418.9h0M299.9 467.1h0M293.3 398.5h0M318.5 477.7h0M300.8 393.8h0M311.7 387.6h0M314.3 416.5h0M320.2 387.5h0M293.6 465.3h0M321.4 478.9h0M323.9 387h0M292.8 400.8h0M290.9 365.7h0M293.5 431.3h0M294.3 382.7h0M302.3 455.8h0M278.8 352.5h0M302.8 360.3h0M277.3 369.5h0M278 378.8h0M321 480.1h0M314.9 397.8h0M299.2 412.4h0M300.3 494.6h0M281.5 339.9h0M294.9 355.6h0M335.5 397.3h0M291 385.1h0M304.2 362.8h0M304.1 427.3h0M316.2 408.3h0M274.8 355.5h0M292.1 353h0M324.9 400.5h0M312.9 339h0M312.7 459.7h0M318.3 419.8h0M311.5 352.8h0M290.1 483h0M318.8 418.5h0M301.5 372.6h0M321.3 438.4h0M289.3 430.5h0M315 411.9h0M298.8 456.8h0M330.8 374.9h0M322.6 449.2h0M328.2 353h0M336.8 348.8h0M307.2 350.9h0M307.2 501h0M302.2 427.6h0M303.4 486.1h0M308.3 395.9h0M299.5 465.2h0M318 472.5h0M294.3 440.7h0M294.7 430.5h0M274.8 363.8h0M295.1 362.1h0M297.3 466h0M313.7 480.6h0M292.5 484.7h0M321.5 372.3h0M300.7 478.6h0M275.1 385.3h0M317.4 442.2h0M318.7 362.4h0M295.6 451.2h0M320.6 374.9h0M325.9 370.9h0M287 468.9h0M332.1 366.5h0M306.4 366.4h0M278.7 395.6h0M300 498.2h0M291.8 451.1h0M313.1 363.8h0M312.5 451.3h0M289.5 455.7h0M322 442h0M327.3 356.5h0M290.5 341h0M293.7 343.3h0M330.4 393.2h0M287.1 353.3h0M293.1 448.5h0M407.8 527.2h0M412.3 558.4h0M403.3 525.2h0M413.2 558.9h0M391.8 544.4h0M390.1 577h0M415.4 574.4h0M413.1 584.3h0M390.1 538.2h0M401.8 518.1h0M401.2 559.8h0M418.3 528.4h0M418.7 584.4h0M417.9 567.6h0M399.9 596h0M391.1 576.6h0M413.1 585.8h0M413.7 516.2h0M390.8 586.2h0M418.4 571.3h0M393.2 546h0M401.7 546.4h0M413.5 547.9h0M399.8 538.8h0M407.5 526.6h0M404.3 553.4h0M397.1 532.2h0M397.9 608.4h0M408.2 528.2h0M403.3 558.4h0M411.2 571.8h0M416.2 501.4h0M397.7 524.8h0M407.5 520.8h0M387.3 522.6h0M397.3 554.8h0M402.2 569.3h0M399.1 566.2h0M394.2 573.6h0M402.4 530.2h0M393.1 515.4h0M397.5 582.4h0M399.5 578.1h0M396 520.2h0M400.9 523.7h0M411 593.1h0M411.3 589.9h0M409.3 593.6h0M399.8 561.1h0M396.5 513.9h0M409.9 565h0M405.2 598.3h0M398 506.2h0M415.9 561.1h0M413.2 550.1h0M395.7 544.7h0M411.1 555.8h0M397.1 597.6h0M397.5 563.2h0M403.1 526.8h0M393 564h0M416.8 513.9h0M397.8 510h0M399.2 530.1h0M406.1 521.2h0M394.5 572.4h0M399.9 528.9h0M400.3 577.7h0M409.6 544.2h0M411 518.9h0M414.9 504h0M407.9 605.7h0M415.2 525h0M409 563.3h0M406.7 576.4h0M392 502h0M393.8 508.4h0M414.7 506.9h0M406.5 582.4h0M404.4 564.8h0M417 566.3h0M413.2 503.3h0M408.2 517h0M401 572.7h0M404.1 523.7h0M399.7 606.4h0M404.6 580.6h0M412.4 540.9h0M407.3 595.6h0M407.1 519.5h0M420.2 518.5h0M416.5 531.7h0M392.1 549.2h0M399.7 542.3h0M421.3 533.7h0M413.9 543.6h0M410.7 576.3h0M417.8 572.8h0M411.8 518.4h0M396.4 585.1h0M411.4 519.2h0M415 583.8h0M389.5 523.9h0M399.1 511.3h0M400.1 554.1h0M407.1 525.6h0M399.1 606h0M417.7 530.6h0M402.1 592.7h0M409.3 580.7h0M411.4 562.8h0M399.3 611.1h0M409.7 542.1h0M407.4 548.2h0M390.9 536.9h0M407.5 593h0M403.1 552.7h0M411.8 516.9h0M399.9 575.9h0M387.9 522.7h0M399.3 541.5h0M413.7 523.3h0M396.1 535.7h0M411.4 508.5h0M412.8 517.3h0M393.6 580.5h0M406.5 517.4h0M387.4 519h0M400.6 583.6h0M415.8 553h0M403.6 570.6h0M410.7 554.7h0M403 561h0M404.1 526.8h0M416.2 560.7h0M407.5 586.5h0M392.3 503.5h0M413 557.2h0M407.1 567h0M401.9 597h0M402.2 584.5h0M390.5 574.7h0M404 508.8h0M408.5 575.8h0M400.6 525h0M399.5 537.2h0M394.4 526.8h0M394.5 502.5h0M392.4 517.5h0M390.2 516.7h0M387.2 525.7h0M388.2 523.4h0M420.6 523.1h0M392.1 514.6h0M392.5 560.1h0M403.1 570.1h0M401 604.4h0M392 577.8h0M389.3 585.3h0M391.9 501.6h0M395.2 505.6h0M409.5 607.6h0M405.6 599.6h0M408.9 600.6h0M410.1 509.6h0M407.7 593.2h0M400 576.2h0M403.4 518.4h0M407.9 516.8h0M393.8 572.5h0M411.8 564.5h0M414.3 566.1h0M402.6 563.3h0M402 591.5h0M393.8 501.7h0M388.6 510.6h0M386.9 530h0M406.3 539.1h0M414.2 533.9h0M393.4 548.3h0M418 566.5h0M402.9 537h0M409.1 535.2h0M407.2 583.2h0M407.5 515.1h0M403 568.5h0M403.6 565.7h0M401.9 504.9h0M400 561.6h0M398.6 605h0M412.2 516.6h0M402.7 589.7h0M402.9 607.7h0M406.8 617.9h0M396.8 514.7h0M411.2 543.8h0M412.7 524.1h0M398.1 570.3h0M413.5 514.2h0M415.3 585.5h0M402.8 516.5h0M414.7 543.3h0M415 525h0M386.7 518.8h0M392.3 526.9h0M403.2 502.4h0M397.4 599.6h0M405.7 521.5h0M414.1 509.2h0M401.6 519.3h0M412.7 562.1h0M414.4 515.8h0M398.1 545h0M418.3 512.5h0M410.5 595.3h0M404.6 577.3h0M421.6 517.1h0M403 550.9h0M393.8 574h0M416.5 526.6h0M390.1 584.5h0M398.7 552.6h0M409.1 584.1h0M420.3 526.4h0M412.3 559.1h0M419.9 519.6h0M391.1 523h0M394.7 539.4h0M412.8 514.2h0M389.4 577.9h0M396 538.9h0M389.4 541.6h0M418.2 538.8h0M409.2 539.8h0M392.5 513.5h0M388.3 535h0M399.1 608.6h0M391.3 539.7h0M418.9 515.6h0M395 512h0M411.2 538.6h0M413 512.6h0M405.2 576.5h0M393.5 527h0M396.4 557.2h0M401.3 614.1h0M400.9 513.5h0M414.5 586.5h0M404.9 585.8h0M402.3 566h0M404.3 528.8h0M407.7 520.9h0M408.1 615.9h0M391 539.3h0M408.2 544.4h0M403.3 539.1h0M407 552.3h0M412 504h0M419 507h0M417.8 518h0M399.3 536.3h0M399.6 526.1h0M393.8 563.3h0M391.3 522.4h0M388.5 509.3h0M409.8 557.1h0M402.4 582.4h0M400.5 566.7h0M395.8 545.3h0M390 577.2h0M392.8 512.2h0M401.7 522.9h0M392.9 562h0M403.4 611.4h0M389.5 585.8h0M414.2 542.5h0M417.7 523.7h0M409.1 523h0M406.4 507.5h0M415.8 508.9h0M396.8 553.9h0M405.2 537.2h0M414.4 550.3h0M391 580.2h0M417.3 520.7h0M390.8 535h0M399.4 594.8h0M414.2 504.5h0M400.8 565.3h0M411 519h0M402 515.1h0M396.9 548.9h0M411.6 577.4h0M408.6 527.1h0M417 513.6h0M415.9 543.5h0M418.6 568.9h0M392.9 539.9h0M406.6 571.5h0M403.3 510.1h0M403.9 556.4h0M394.3 555.9h0M415.8 576.2h0M408.7 587.2h0M406.1 571.7h0M400.1 531.5h0M411.7 510.2h0M400.9 523h0M403.6 547.3h0M390 526.1h0M404.5 557.1h0M397.5 513.9h0M403.8 601.1h0M392.9 519.3h0M397.2 552.1h0M409 613.2h0M394.6 510.8h0M413.2 539.3h0M404.4 530.7h0M404.2 536.4h0M396.9 573.4h0M392.9 553h0M413.2 529.9h0M391.2 544.4h0M396.9 554.9h0M403.6 539.5h0M409.1 567.3h0M407.3 547.9h0M392.5 586.6h0M418.8 572.6h0M391.5 549.2h0M387.7 531.6h0M400.3 540.6h0M398.9 573.8h0M398.6 524.7h0M397.6 523.6h0M398.9 552.5h0M396.2 501.2h0M406.7 549.2h0M402 562.4h0M404.1 513.8h0M408.5 511.7h0M421.9 516.7h0M395.2 526h0M403.7 594.9h0M416.3 506h0M403.3 505.7h0M408.6 520.5h0M420.6 511.9h0M405.2 514.3h0M391.7 575.2h0M389.4 575.3h0M401.8 505.7h0M403.1 576.3h0M410.2 546.3h0M399.1 525.2h0M399.8 560.9h0M407.1 502.7h0M392.7 517.1h0M406.2 541.5h0M412.3 524.1h0M397.3 572h0M407.9 518.4h0M411.6 562.4h0M402 542.3h0M411.7 523.1h0M408.7 593.4h0M412.3 585.5h0M411.2 590.2h0M401.8 535.9h0M401.3 518h0M395.4 524.4h0M400.5 507.6h0M409.2 604.1h0M394.5 518.2h0M399.6 590.7h0M404.3 552.7h0M412.9 535.5h0M395.3 565.6h0M418.5 539.1h0M392.8 547.4h0M410.9 593.9h0M409.8 537.8h0M398.6 511.6h0M393.8 561.6h0M400.1 546.3h0M397.6 521.2h0M398.9 550.9h0M411.5 544.7h0M415.8 540.7h0M415 542.3h0M386.8 522.1h0M402.9 551.7h0M417.8 544.3h0M414.5 511.5h0M416.2 514.2h0M390.8 583.3h0M402.4 515h0M409.4 581.5h0M412.8 588.2h0M397 508.3h0M409.3 558.2h0M410.7 502.5h0M392.3 555.2h0M394.1 527h0M402.7 547.5h0M410.7 544h0M396.2 582.9h0M400.3 537.2h0M399.4 544.2h0M391.4 581.1h0M402.7 597.1h0M398.9 606.8h0M419.8 528.8h0M406.8 560.7h0M403.9 551.9h0M398.1 568.2h0M402.4 565.6h0M393.2 568.5h0M396.2 552.9h0M406.4 538.8h0M410.1 530.5h0M391.1 504.1h0M407.8 571h0M404.6 552h0M399.2 513.8h0M392.5 550.2h0M407 514.6h0M388.7 531.9h0M393.4 569h0M415.4 519h0M409.3 547.8h0M417.6 507.4h0M397.2 577.6h0M414.7 515.4h0M417.2 511h0M390.5 579.1h0M410.1 522.3h0M404.3 588.8h0M399.8 581.9h0M391.4 548.7h0M406 560.9h0M412.9 545.3h0M400.9 585.8h0M413.1 530.3h0M399.3 555.9h0M405 596.6h0M396.6 530h0M401.4 614.9h0M409.5 532.5h0M399.7 532.2h0M410.4 551.4h0M410.1 601h0M391.3 561.5h0M398.5 577.7h0M397.9 547.5h0M407.7 597.6h0M416.7 526.7h0M413.6 580.7h0M391.2 505h0M397.6 536.8h0M401.1 571.8h0M395.3 511.9h0M414.8 566.5h0M412.3 550.2h0M401.8 553.5h0M400.5 616.5h0M392.5 534.2h0M402.8 567.7h0M408.6 591.6h0M411.3 518.2h0M396.5 549.6h0M417.8 514.4h0M408.9 540.9h0M417 536.8h0M391.7 562.9h0M390.4 529.6h0M414.2 583.3h0M405.5 556.5h0M395.1 512.7h0M406.8 515.4h0M415.6 583.6h0M408.1 603.8h0M406 589.2h0M412.1 508.9h0M420.8 511.7h0M420 534.9h0M413.6 544.2h0M388.6 511.5h0M400.9 604.7h0M417.5 503h0M410.3 563.1h0M405.8 519.1h0M406.9 532.7h0M398.1 553.5h0M418 568.7h0M419.6 538.9h0M395.6 544.5h0M408.8 543.5h0M399 597.6h0M389.3 577.8h0M411.3 539.3h0M405.7 550.8h0M401.6 608.6h0M415.4 577.3h0M395.5 511.9h0M416.2 514.7h0M392.4 583.1h0M397 525.9h0M412.7 576.9h0M388.5 510.4h0M400.3 543.1h0M397.1 597.5h0M399.9 606.4h0M409.4 567.9h0M414.4 530.3h0M408 561.8h0M411 561.5h0M387.8 532h0M415.2 539.6h0M411.7 596.1h0M422.4 596.9h0M419 596.9h0M374.9 594.8h0M431.6 595.7h0M429 593.3h0M402.2 593.9h0M406.8 595.3h0M373.9 593.8h0M390.4 596.8h0M420.6 593.5h0M422.5 593.4h0M411.4 593.4h0M373.2 596.6h0M386.1 593.7h0M434 596.6h0M391 597h0M406.5 595.8h0M385.8 596.9h0M415.9 597.1h0M428.5 594.1h0M395.5 593.5h0M382.1 593.1h0M391.8 595.5h0M373.3 595.8h0M394 594.2h0M423.8 594.9h0M392.7 594.9h0M416.8 593.1h0M433.6 592.9h0M419.6 596.5h0M374.2 596.3h0M395.8 595.3h0M373.7 593h0M384.3 597h0M385.3 596.1h0M430.7 596.9h0M394.5 594.4h0M405.6 596.2h0M379.8 596.1h0M422.5 596.6h0M375.4 597h0M378.8 594.3h0M411 596.8h0M394.2 596.9h0M406.9 594.2h0M392.7 593.6h0M377.9 593.5h0M415.8 597.2h0M383.1 593h0M434.3 595.1h0M398.3 593.8h0M409.9 596.4h0M401.4 594.7h0M376.6 596.8h0M375.1 595h0M425.1 593.4h0M418.5 597h0M412.2 596.3h0M379.7 594.7h0M382.4 596.5h0M391.4 594.8h0" stroke="#808080" stroke-width="4.3" stroke-linecap="round" fill="none"/>
<g stroke="#000" stroke-width="5" fill="none">
<path d="M141.7 26V624.7"/>
<path d="M126 622.2H472.6"/>
<path d="M126 503.5H141.7"/>
<path d="M126 384.7H141.7"/>
<path d="M126 266H141.7"/>
<path d="M126 147.2H141.7"/>
<path d="M126 28.5H141.7"/>
<path d="M207.5 622.2V637"/>
<path d="M305.8 622.2V637"/>
<path d="M404.2 622.2V637"/>
</g>
<path d="M428.1 621.1h0M426.9 619.9h0M403.5 620.7h0M403.1 619.4h0M399.5 618.9h0M398.2 621.5h0M426.2 620.4h0M404.1 619.5h0M384.4 619.3h0M417.6 621.1h0M397.4 620.9h0M417.3 620.6h0M412 620.8h0M397.5 620.6h0M393.6 620h0M417 620.6h0M394.2 621.3h0M411.3 620.2h0M380.7 620.1h0M392.1 620.5h0M402.3 621h0M411.2 620.9h0M396.8 620.4h0M415.5 621h0M396.9 621h0M421.9 620.6h0M427 621.4h0M405 620.1h0M388.1 621h0M425.1 619.9h0M413.3 620.7h0M415.2 619h0M417.6 620.2h0M412 619.8h0M410 620.8h0M410.7 620.7h0M381.4 619h0M401.3 620.5h0M390.6 620.6h0M410.4 618.6h0M402.7 619.2h0M382.7 618.9h0M395.3 619h0M389.4 618.6h0M402.4 619.6h0M409.5 620.3h0M391.5 621.2h0M380.1 619.7h0M393.5 619.7h0M385.6 621h0M398 618.6h0M409.6 618.8h0M406.3 619.5h0M408 621.4h0M419.4 619.8h0M419.1 620.4h0M397.8 618.9h0M408.7 620.2h0M426 621.4h0M409.3 619.6h0" stroke="#808080" stroke-width="3.6" stroke-linecap="round" fill="none"/>
<g stroke="#000" stroke-width="3.6">
<path d="M174 280.8H240.3"/>
<path d="M272.4 398.2H338.6"/>
<path d="M371 561.3H436.8"/>
</g>
<text x="122.6" y="632.2" font-size="27.8" text-anchor="end">0.00</text>
<text x="122.6" y="513.5" font-size="27.8" text-anchor="end">0.25</text>
<text x="122.6" y="394.7" font-size="27.8" text-anchor="end">0.50</text>
<text x="122.6" y="276" font-size="27.8" text-anchor="end">0.75</text>
<text x="122.6" y="157.2" font-size="27.8" text-anchor="end">1.00</text>
<text x="122.6" y="38.5" font-size="27.8" text-anchor="end">1.25</text>
<text class="b" x="207" y="671" font-size="32.3" text-anchor="middle">High</text>
<text class="b" x="305.2" y="671" font-size="32.3" text-anchor="middle">Med</text>
<text class="b" x="403.8" y="671" font-size="32.3" text-anchor="middle">Low</text>
<path d="M156 680H444.8" stroke="#000" stroke-width="3.5"/>
<text class="b" x="300.6" y="717" font-size="32.3" text-anchor="middle">CIN Level</text>
<text class="b" transform="translate(52 322.3) rotate(-90)" font-size="32.3" text-anchor="middle" xml:space="preserve" style="white-space:pre">Fraction  Genome  Altered</text>
</g>
<g id="panel-b">
<text x="528.5" y="43.5" font-size="63">b</text>
<g stroke="#ebebeb" fill="none">
<g stroke-width="1">
<path d="M666.2 223.9V675.5"/>
<path d="M795 223.9V675.5"/>
<path d="M923.9 223.9V675.5"/>
<path d="M1052.7 223.9V675.5"/>
<path d="M1181.6 223.9V675.5"/>
<path d="M650.3 585.9H1274"/>
<path d="M650.3 447.6H1274"/>
<path d="M650.3 309.2H1274"/>
</g><g stroke-width="1.9">
<path d="M730.6 223.9V675.5"/>
<path d="M859.5 223.9V675.5"/>
<path d="M988.3 223.9V675.5"/>
<path d="M1117.2 223.9V675.5"/>
<path d="M1246 223.9V675.5"/>
<path d="M650.3 655.1H1274" stroke-width="1.7"/>
<path d="M650.3 516.7H1274" stroke-width="1.7"/>
<path d="M650.3 378.4H1274" stroke-width="1.7"/>
<path d="M650.3 240H1274" stroke-width="1.7"/>
</g></g>
<path d="M766.7 570.7h0M775.5 619.8h0M771.3 611.6h0M768.8 583.4h0M776.8 635.1h0M774.2 633.2h0M751.5 571.3h0M759.3 622.3h0M769.3 589.7h0M764.8 616.7h0M772.5 601.5h0M764 628.2h0M772.5 618h0M773.7 629.7h0M760 619.7h0M762.5 567.5h0M768.8 615.7h0M774.8 616.9h0M773 616.7h0M773.1 604.4h0M772 644h0M761.3 615.5h0M764.4 563.6h0M769.5 584.2h0M769 626.3h0M770.3 629.8h0M764.1 623.2h0M763.3 629.4h0M760.3 607.7h0M774 637.1h0M776.2 636h0M777.9 651.2h0M765.8 615.8h0M770.7 606.7h0M769.7 630.7h0M776.9 645.4h0M775.9 630.2h0M772.8 636.2h0M773.5 626.3h0M767.4 579.6h0M778.7 649.1h0M773.8 641.3h0M772.1 629.9h0M767.8 606h0M777.2 654.1h0M771.5 631.4h0M763.4 566.6h0M764.5 633.3h0M759.4 619.4h0M762.4 614.6h0M765.7 589.7h0M774 650.8h0M764.8 618.7h0M772.8 604.7h0M778.5 644.6h0M773.3 612.8h0M772 634.2h0M753.8 596.6h0M755 569h0M774.6 627.2h0M769 599.1h0M761.7 614.8h0M771.3 637.6h0M777.1 636h0M772.5 622.9h0M777.9 653.2h0M777.1 634.9h0M778.2 647.5h0M764.3 579.2h0M763.6 582.9h0M773 618.9h0M753.7 569.6h0M772.8 648.2h0M760 611.3h0M769.9 591.1h0M770.4 626.5h0M768.3 628.7h0M758.8 589.2h0M766.6 570.5h0M765.3 570.3h0M767.4 573.5h0M764.2 598.2h0M770 619.1h0M774.5 620.9h0M757.4 605.4h0M761.3 618.5h0M772.3 640.1h0M764.8 569h0M765.1 623.8h0M767.3 605.9h0M766 615.4h0M768.8 637.7h0M777.8 651.4h0M770 590h0M768.9 606.3h0M761 621.4h0M766.3 629h0M762.2 569.2h0M774.3 628.7h0M770.2 617.4h0M752.5 588.6h0M771.7 636.3h0M777.6 644h0M776.3 636.4h0M765.9 578h0M772.6 635.9h0M751.6 596.1h0M775.5 645.6h0M769.7 589.9h0M770.5 623h0M773.4 635.4h0M766.3 605.9h0M775.1 643.1h0M771.9 596h0M771.6 629.2h0M767 584.2h0M770.1 617.9h0M773 624.6h0M766.4 589.3h0M762 565.6h0M768.7 621.4h0M765.1 598.8h0M770.7 627.8h0M769.5 606h0M778 647.5h0M762.8 584.1h0M773.3 610.2h0M755.6 568.3h0M761.3 566.8h0M766.1 629.2h0M773.4 637.3h0M773.4 624.9h0M776.5 629h0M776 637.2h0M768.6 573.1h0M764.1 615.1h0M769.4 586.3h0M776.9 630.1h0M767.9 577.7h0M776.7 652.2h0M766.4 578.5h0M772 594.8h0M763.5 632.8h0M746.3 579.1h0M765.7 622.5h0M760.4 615.3h0M768.9 643.5h0M776.2 643.3h0M766.7 622.4h0M773.5 636.9h0M776.7 640.4h0M767.5 602.4h0M774.8 627.3h0M768.3 591h0M767.9 628.1h0M766.6 604h0M748.9 588.3h0M767.6 584.9h0M766.8 581.5h0M765.6 631.7h0M757.3 574h0M772.3 635h0M762 566.9h0M769.6 641.9h0M768.9 628.9h0M765.6 564.5h0M774.3 641.7h0M766.2 569.2h0M772.7 640.5h0M776.7 652.8h0M766.8 617.3h0M764.8 566.8h0M759.9 599.7h0M763.2 622.3h0M760.2 622h0M768.1 603h0M775.7 631h0M772.8 613.4h0M767.9 635.1h0M766.2 580.8h0M750.3 571.4h0M772.2 613.8h0M768.4 637.7h0M764 629.5h0M773.6 630.3h0M764.8 585.7h0M770.5 644.1h0M772.1 636h0M771 615.1h0M769.8 614.7h0M775.7 649.7h0M778.6 652.2h0M761.7 564.1h0M777.6 637.9h0M771.6 593.4h0M769.8 634.4h0M759 604.7h0M759.2 611h0M761.2 612.7h0M753.5 597.6h0M766.7 596.9h0M778 650.2h0M765.4 594.5h0M766.9 569.5h0M756.2 576.9h0M776.7 653.9h0M769.7 599.5h0M764.9 581.7h0M762.6 579h0M769.8 620.6h0M758.4 605.2h0M774.3 644.9h0M765.4 605.3h0M760.3 603.5h0M770.9 609.2h0M750.3 590.4h0M764.8 622.5h0M763.4 620.5h0M768.7 595.1h0M769.7 636.8h0M774.7 631.9h0M769.6 616.5h0M761.8 568.4h0M764 600.1h0M761.1 611.5h0M760.2 567.2h0M764.3 567.1h0M763.3 623.4h0M769.3 634h0M746.3 582.6h0M774.5 647.8h0M768 585.3h0M770.3 631.4h0M763.8 627.3h0M771.6 642.8h0M770.8 625.6h0M763.2 628.3h0M763.4 627.3h0M767.9 567.7h0M772.6 627.5h0M766.9 595.3h0M771 589.3h0M763.2 582.9h0M778.8 655.4h0M767.2 616.7h0M775.1 623.7h0M756.6 567.2h0M766.2 580.8h0M753.1 592.1h0M775.5 649.9h0M773.5 625.3h0M771.8 615h0M764.2 630.1h0M768.5 575.7h0M771.6 597.7h0M778.2 648.1h0M768.7 588.8h0M763.5 606.5h0M776.8 647.4h0M764.1 633.9h0M756.2 575.3h0M769.5 635.3h0M772 593.8h0M763.9 621.9h0M775.2 619.9h0M767.7 567.3h0M765.8 605.9h0M767.4 603.7h0M771.7 607.3h0M772.1 605.5h0M768.6 596.1h0M764.8 597.1h0M770.8 622.3h0M769.6 597.4h0M752.7 569.7h0M769 606.4h0M760.5 601.8h0M769.2 592.5h0M767.8 618.6h0M775 618.2h0M761 615.9h0M767.7 624.9h0M776.9 639.5h0M761.4 615h0M771.3 637.5h0M767.9 606.4h0M774.3 615.2h0M772 598.3h0M769.5 596.5h0M770.4 597.8h0M775.7 636.3h0M761.9 625.9h0M775.6 639h0M769.3 583.2h0M764.1 587.2h0M758.2 572.6h0M762 564.1h0M775.2 647.4h0M763.4 630.7h0M771 625.1h0M766.2 563.6h0M765.7 624.2h0M762.2 615.2h0M766.2 605.3h0M768.7 590.6h0M774.4 611.8h0M775.6 631.6h0M749.3 568.9h0M761.9 603.8h0M764.7 625.7h0M767.4 567.7h0M767 583.8h0M776.7 647.5h0M762.6 613.9h0M770.9 601h0M767.2 581.5h0M769 582.1h0M764.4 600.2h0M767 567.7h0M763 566.3h0M774.7 617.5h0M769.5 581.1h0M756 576.3h0M768.8 632.2h0M764 616.6h0M770.7 591.1h0M774 619.3h0M767.7 635h0M776.8 629.7h0M760.5 604.6h0M765.6 583.3h0M767.8 619.5h0M764.9 626.7h0M772.3 598h0M763.1 614.6h0M753.1 595.5h0M769.1 628.9h0M768.6 642.7h0M766.1 618.2h0M772.4 643.5h0M771.3 607.7h0M765.8 637.6h0M770.3 613.3h0M762.7 626.2h0M761.8 563.3h0M767 587.8h0M765.3 563h0M770.4 625.2h0M771.2 617.1h0M765.6 626.6h0M772.9 609.8h0M775.6 622.6h0M767.6 635.8h0M757.7 571.6h0M758.4 614.7h0M768.3 626.6h0M755.5 595.4h0M765 585.7h0M768.2 631.4h0M763.5 624.2h0M773.4 611.3h0M762.2 623.2h0M750.6 588.1h0M772.9 640.3h0M767.9 575.1h0M770.9 616.5h0M764.7 626.1h0M764.6 621.4h0M768.4 604.1h0M764.9 590.4h0M776.4 633.2h0M775.2 630.4h0M757 571.8h0M771.3 589.2h0M768.1 623.5h0M758.2 567h0M764.4 606h0M769.4 600.6h0M769.2 605.1h0M768.9 579.4h0M753.8 568.9h0M765.1 627.9h0M768.9 603.1h0M774 613.8h0M760.7 567.8h0M778.5 639.4h0M773.1 604.3h0M770.6 611.1h0M766.5 625.3h0M756.8 566.7h0M760.7 622.8h0M766.7 569.2h0M767.8 577.9h0M757.3 602.5h0M776.3 633.3h0M770.1 599.4h0M768 620.3h0M768.7 604.1h0M760.3 620.9h0M768.7 582.6h0M755.2 575.3h0M775.7 642.4h0M768.5 583.8h0M770.9 595.8h0M769.5 629.4h0M772.5 621.7h0M764 568.5h0M772.2 648.8h0M775.8 630.1h0M778.6 650.4h0M770 600.8h0M774.5 648.4h0M767.3 574.7h0M762.7 614.6h0M753 595.3h0M767.6 629.3h0M767.3 593.4h0M768.8 604.6h0M766.3 584.2h0M777.4 645.4h0M778.8 642.8h0M771.8 593.5h0M753.1 594.8h0M752.5 591.8h0M769.4 603.2h0M775.2 621.7h0M766.4 638.8h0M772.2 619.5h0M775.2 642.1h0M769.5 606.9h0M756.3 570.7h0M764.4 632.5h0M760.3 613.1h0M770.8 645h0M776.7 628.3h0M763.7 600.2h0M771.4 631.2h0M772.4 602.3h0M765.3 593.1h0M769.9 633.3h0M770.4 620.5h0M764.7 605.5h0M768.8 583.7h0M764.8 594.1h0M777.5 647.6h0M773.7 637.1h0M770.3 623.6h0M766.9 598.5h0M770 631.7h0M766.9 564.8h0M767.4 582.4h0M777.5 647.9h0M777.7 644.6h0M767.7 633h0M769.6 643.7h0M775.5 633.1h0M772 647.6h0M765 564h0M772.9 634.7h0M771.5 612h0M766.9 617.6h0M777.4 653.4h0M758.6 614h0M767.9 624.6h0M758.9 616.3h0M768.3 619.2h0M776.3 650.3h0M775.1 643.7h0M773 623.8h0M765.9 621.6h0M803.4 563.4h0M789.9 650.6h0M786.6 644.5h0M802.6 602.1h0M804.2 639.8h0M796.1 603.7h0M808.7 565.7h0M804.4 626.6h0M796.9 641.5h0M801.1 610.6h0M795.4 633h0M797.2 648.6h0M791.9 636.9h0M797.3 630.6h0M797.7 639.6h0M804.9 626.2h0M800.2 606h0M801.1 631.4h0M798.2 589.3h0M807 563.3h0M791.8 647.9h0M813.4 623.3h0M803.2 640.4h0M808.2 577h0M792.1 620.7h0M790.5 640h0M811.5 625.9h0M796.3 645.4h0M802.4 602.9h0M813.1 592h0M802 612.4h0M796.1 611.3h0M797 596.3h0M808.9 625.4h0M793.9 609.5h0M801.9 569.8h0M816.5 602.8h0M796.9 635.1h0M801.4 609h0M800.6 576.3h0M802.1 589.3h0M796 613.4h0M799.4 578.3h0M810.3 621.3h0M808.2 564h0M803.4 641.6h0M805.3 638.4h0M799.9 585.3h0M803 620.9h0M798.2 587.4h0M811.2 627.5h0M792.2 635.4h0M802.7 590h0M794.6 626.9h0M803.2 563.7h0M810.7 625.4h0M805.5 620.8h0M799.9 581.5h0M800 627.5h0M793.3 621.1h0M800 574.6h0M805.6 627.1h0M808.8 627.4h0M796.9 645.5h0M803 633.1h0M797.6 629.6h0M788.9 639.3h0M806 564h0M798.2 605h0M801.1 584.3h0M800.4 613.1h0M808.9 572.2h0M797.8 603.1h0M790.5 654.5h0M795.9 627.9h0M798 601.3h0M806.5 567.5h0M801.5 590.6h0M800.8 625.1h0M806 638.6h0M790.7 639.1h0M809.7 566h0M786.6 643h0M793.5 626.7h0M799.2 612.1h0M797.7 589.9h0M791.6 653.2h0M803.5 564.1h0M799.1 623.9h0M802.2 622.9h0M797.5 637.1h0M803.9 621.1h0M795.8 648h0M802.7 618.1h0M789 628.6h0M807.8 633h0M812.9 623.9h0M800.5 645.9h0M801.2 622.9h0M794.8 634.5h0M801.6 610.9h0M794.4 643.6h0M798.5 607.5h0M793.1 608.8h0M801.6 588.7h0M803.1 628.7h0M798.1 614.7h0M815.1 588.4h0M792.6 643.8h0M805.1 639.3h0M788.7 646.4h0M794.6 637.7h0M796.2 621h0M806.1 629.6h0M792.8 611.4h0M810.3 622.8h0M786.9 650.8h0M796.7 617.7h0M791.2 630.9h0M792.5 629h0M808.7 620.7h0M786.4 647.5h0M804.3 621.1h0M801.9 627h0M802.7 642h0M805.1 563.8h0M802.3 631.4h0M797 629.4h0M798.4 590.4h0M795.7 605.8h0M798.9 585.9h0M801.1 610.1h0M801.5 605.1h0M799.6 637.5h0M805.7 633.5h0M789.1 645.3h0M803.4 605.9h0M804 642.2h0M812.9 619.1h0M797.2 636h0M803.5 627.6h0M800.6 644.6h0M798.3 587.5h0M807.5 633.1h0M793.2 631.6h0M798.9 621.5h0M797.2 597.9h0M801.5 641.7h0M798 584.4h0M800.1 642.5h0M792.7 645.3h0M794.9 611.2h0M802.2 613.6h0M808.5 629.6h0M796.6 602.8h0M811.1 621.3h0M797.3 635.2h0M801.1 567.5h0M793.2 612.5h0M791 647.4h0M791.5 651.9h0M794.5 618.5h0M802.5 613.9h0M791 648.3h0M799.3 585h0M795.8 613.8h0M786.7 640.7h0M800.2 639.5h0M789.3 640.9h0M797.1 633h0M793.7 613.5h0M798.9 625h0M812.7 623.6h0M795.3 634.9h0M804.6 616.7h0M823.1 610.6h0M801 588.5h0M811.1 628.2h0M810.6 632.3h0M799.4 620.4h0M808.9 569.2h0M789.1 644.4h0M798.7 635.3h0M799.7 603.3h0M803.6 591.1h0M808.9 619.3h0M821.4 602.2h0M808 635.1h0M804.2 622.9h0M796.9 612.5h0M792.2 632h0M801.6 606.9h0M800.1 576.6h0M798.4 600.7h0M804.6 601.9h0M808.7 628.3h0M802.1 618.2h0M818.2 591.3h0M795.4 633h0M819.6 601.5h0M796.6 648.2h0M799 636.6h0M790.7 620.8h0M790.5 647.3h0M797.2 637.7h0M799.8 607.3h0M805.3 567.6h0M809.3 631.9h0M796.8 636.7h0M791.7 630.2h0M797.8 614.9h0M798.7 587.6h0M788 649h0M795.9 643.3h0M791.1 620.9h0M799.6 608.5h0M791.1 638.4h0M800.2 572.8h0M799.5 642h0M799.5 607.5h0M797.8 634.3h0M798.3 591.5h0M806.6 620.8h0M789.9 641.6h0M799.5 617.1h0M795.4 618.4h0M794.8 618.6h0M795.9 605.4h0M800 607.8h0M797.2 593.6h0M793.6 639.8h0M791.1 650.2h0M801.2 637.3h0M797.9 605h0M794.6 617.3h0M805.4 633.3h0M799.1 632.6h0M802.3 633.7h0M797.3 602.3h0M792.9 635.3h0M804.4 632.7h0M809.1 566.5h0M799.3 641.7h0M797.2 592.7h0M797.1 607.8h0M801.6 600.2h0M798.4 586.9h0M811.4 627.8h0M805.5 636.8h0M800.5 643.9h0M788.1 644.1h0M809.3 622.9h0M789.4 633.2h0M796.4 648.6h0M794.2 637.4h0M792.2 637.2h0M796.1 607.1h0M800.6 624.5h0M794 651.5h0M795.1 598.2h0M794.1 640.4h0M798.7 615.3h0M804.5 619.9h0M796.8 622.4h0M801.2 619.7h0M791.9 645.7h0M799.4 584.7h0M811.3 630.9h0M788.7 635.5h0M793.3 632.8h0M802.2 583.9h0M807.3 631.4h0M799.5 644.6h0M807.4 577.1h0M819.9 615.4h0M798.2 639.6h0M791.8 644.1h0M802.1 608.4h0M796.6 608h0M800.6 583.6h0M810.9 627.1h0M792.7 629.8h0M796.2 619.8h0M802.4 615.1h0M799.2 582.3h0M801.6 607h0M795.9 628.1h0M788.2 640.1h0M806 633.7h0M802.5 628.2h0M807.8 623.8h0M798 636.6h0M799.3 645.3h0M808.4 620.1h0M801.4 605.1h0M800 617.6h0M802.6 600.4h0M797.9 629.5h0M801.9 638h0M789.1 629.4h0M795.2 641.3h0M792.4 646h0M794.2 645.9h0M799.5 605.3h0M789.7 644h0M788.2 654.5h0M802.2 634h0M803.6 584.9h0M820.8 610.4h0M793.5 622h0M791 650.8h0M800.2 581.7h0M819.8 611.2h0M794.3 622h0M798 627.3h0M799.4 634.4h0M794.9 607.3h0M797 636h0M798.2 609h0M799.8 600.4h0M809.1 631h0M788.7 653h0M803 627.6h0M800.4 608.3h0M804.6 627.4h0M786.9 653h0M796.3 609.2h0M794 638.5h0M794.5 617.9h0M803.3 632.3h0M796.8 610.2h0M804.5 579.6h0M800 588.9h0M796.5 591.5h0M789.7 639h0M801.2 600.7h0M798.2 648.8h0M794.7 642.8h0M798.2 585.4h0M800 579.2h0M799.2 578h0M809.3 627.5h0M801.9 607.7h0M792.2 614.1h0M809.6 624.6h0M797.5 596.5h0M811.3 623.5h0M802.6 569.3h0M809.7 568.7h0M797.3 647.3h0M813.3 591.4h0M793.2 620.2h0M801.5 581.2h0M799.9 574.7h0M802.8 567.1h0M807.8 624.4h0M788 643.5h0M805.7 562.3h0M799.6 610.4h0M798.5 598.1h0M803.2 584.2h0M794.1 615.3h0M795.3 632.7h0M792.3 647.6h0M797.1 648.9h0M792.3 628.8h0M806.9 622.2h0M803.9 603.9h0M799.6 600h0M814 590.7h0M799.1 606.1h0M800.3 619h0M803.1 578.3h0M800.1 625.4h0M802.3 602.1h0M807.6 602.1h0M815.6 618h0M803.8 600.7h0M806.7 637.4h0M793.3 629.9h0M812.4 625.4h0M804.7 636.7h0M788.7 640.9h0M787 646.8h0M795.4 641.2h0M786.4 655.7h0M798.3 593.7h0M788.7 654.6h0M791.4 646.3h0M790.4 647.7h0M801.4 567.5h0M798.7 604h0M795.1 636.3h0M802 567.6h0M799.4 606.7h0M808.2 627.6h0M803.6 641.1h0M804 563.9h0M798.2 580.7h0M804.3 586.8h0M803.5 584.7h0M795.9 601.6h0M800.1 642.6h0M811.5 629.5h0M791.6 649h0M798.1 586.8h0M793.8 640.9h0M794.6 632.8h0M786.9 654.2h0M802.5 566h0M796.6 614.8h0M800 630.1h0M796.7 589.4h0M807 636.5h0M805.9 563.6h0M809.5 565.8h0M801.8 568.8h0M797.6 612.3h0M807.8 563.8h0M793.7 641.2h0M803.3 641.4h0M800.2 646h0M802.9 632.8h0M804.7 564.8h0M792.6 618.3h0M796.5 594.6h0M787.2 643.8h0M802.9 636.5h0M787 642.1h0M798.9 639.4h0M808.2 636.8h0M790.3 654h0M794.9 631.4h0M792.5 617.3h0M797.9 610.4h0M800.1 578.4h0M799 615.4h0M797.3 613.4h0M804.4 567.1h0M804.3 618h0M789.5 639.9h0M800.5 588.8h0M807.3 618.6h0M799.1 587.4h0M796.3 642.1h0M796.6 626.2h0M816.3 600.3h0M793.1 645.1h0M813.3 592.6h0M798.9 633.3h0M791 634.3h0M804.8 633.6h0M791.4 637.4h0M790.9 647.3h0M788.8 643.1h0M805.8 602.3h0M795.3 632.9h0M795.1 644h0M787.8 654.6h0M796.2 610.7h0M812.3 625.3h0M786.4 644.3h0M801.9 618.5h0M797 629.6h0M801.1 588.6h0M804.4 601.4h0M817.8 600.5h0M803.1 585.6h0M796.7 623.9h0M800.2 612.4h0M795.8 603.6h0M803.6 583.7h0M805.1 625.5h0M797.4 629.6h0M802 591.8h0M799.6 610.6h0M791.7 647.8h0M810.1 624.5h0M792.5 634.7h0M794.8 649.9h0M800.2 611.7h0M800.8 635h0M807.6 635.1h0M801 591h0M788.5 633.4h0M815.5 591.8h0M804.2 632h0M798.4 638.2h0M816.1 591.7h0M796 641.3h0M810.3 628.7h0M806.4 637h0M790.6 624.3h0M801.5 580.9h0M820.3 611.7h0M807.7 632.8h0M811.7 620h0M798.7 580.4h0M792.2 623.3h0M791.4 651.3h0M797.5 602.7h0M804.6 621.1h0M799.6 626.1h0M798.6 632.8h0M799.2 636.3h0M802.3 590.6h0M804.9 566.6h0M796.1 618.8h0M804.8 618.6h0M799.7 605.2h0M788.9 642.1h0M801.7 585h0M800.1 621.4h0M800.7 589.8h0M789.9 650.8h0M799.4 617.5h0M792.3 647.5h0M796.5 616.9h0M809.5 620.4h0M790.1 626.1h0M790.7 650.7h0M807.9 623.1h0M802.6 607.3h0M803 624.9h0M797.2 650.1h0M822.5 613.1h0M808.3 629.2h0M791.6 629.1h0M797.7 591.3h0M805.7 636.1h0M810.2 630.7h0M807 623.5h0M797.8 647.9h0M801.4 640.6h0M802.5 613.2h0M804 600.1h0M814.4 588.5h0M796.9 611.1h0M803.3 635.8h0M791.7 653.5h0M806.4 566.3h0M797 590.6h0M800.8 627.7h0M790.5 648.6h0M800.8 634.6h0M805.1 634.2h0M810.1 631.3h0M791.2 631.7h0M794.7 641.1h0M802.1 641.5h0M797.7 630.7h0M825.2 610.6h0M799.5 636h0M808.1 627.7h0M808.7 628.5h0M808.9 629.9h0M794.3 606.1h0M810.7 632.9h0M804.4 617.5h0M790.9 624.2h0M792.9 620.6h0M798.6 592h0M799.8 624.6h0M795.5 632.1h0M791.4 632.2h0M805.9 627.7h0M808 562.5h0M788.7 653.4h0M789.2 634.6h0M801.7 617.9h0M801.5 603.8h0M792.5 652.9h0M790.8 654.1h0M799.5 615.9h0M795.8 599h0M801 635.4h0M796.2 636.4h0M794.8 646.2h0M805.2 634.1h0M805.3 620.8h0M808.3 563h0M797.9 591.3h0M798.7 634.4h0M793.2 621.5h0M788.3 652.7h0M798 644.1h0M810.8 623.3h0M816.4 602.1h0M804.5 567.9h0M791.1 645.1h0M803.8 637.6h0M790.5 621.8h0M798.7 611.8h0M800.6 635h0M803.5 564.9h0M802.9 628.2h0M793.6 636.9h0M805 568.8h0M807.5 562.9h0M799.8 589.5h0M767.4 561.8h0M801.8 561.8h0M767.6 563.2h0M801.5 563.2h0M767.8 564.5h0M801.3 564.5h0M768 565.9h0M801 565.9h0M768.2 567.3h0M800.7 567.3h0M768.4 568.6h0M800.5 568.6h0M768.6 570h0M800.2 570h0M768.8 571.4h0M800 571.4h0M769 572.7h0M799.7 572.7h0M769.2 574.1h0M799.4 574.1h0M769.4 575.5h0M799.2 575.5h0M769.6 576.9h0M798.9 576.9h0M769.8 578.2h0M798.6 578.2h0M770 579.6h0M798.4 579.6h0M770.2 581h0M798.1 581h0M770.4 582.3h0M797.9 582.3h0M770.6 583.7h0M797.6 583.7h0M770.8 585.1h0M797.3 585.1h0M771 586.4h0M797.1 586.4h0M771.2 587.8h0M796.8 587.8h0M771.4 589.2h0M796.5 589.2h0M771.6 590.5h0M796.3 590.5h0M771.8 591.9h0M796 591.9h0M772 593.3h0M795.8 593.3h0M772.2 594.6h0M795.5 594.6h0M772.4 596h0M795.2 596h0M772.6 597.4h0M795 597.4h0M772.7 598.7h0M794.7 598.7h0M772.9 600.1h0M794.4 600.1h0M773.1 601.5h0M794.2 601.5h0M773.3 602.8h0M793.9 602.8h0M773.5 604.2h0M793.7 604.2h0M773.7 605.6h0M793.4 605.6h0M773.9 607h0M793.1 607h0M774.1 608.3h0M792.9 608.3h0M774.3 609.7h0M792.6 609.7h0M774.5 611.1h0M792.3 611.1h0M774.7 612.4h0M792.1 612.4h0M774.9 613.8h0M791.8 613.8h0M775.1 615.2h0M791.5 615.2h0M775.3 616.5h0M791.3 616.5h0M775.5 617.9h0M791 617.9h0M775.7 619.3h0M790.8 619.3h0M775.9 620.6h0M790.5 620.6h0M776.1 622h0M790.2 622h0M776.3 623.4h0M790 623.4h0M776.5 624.7h0M789.7 624.7h0M776.7 626.1h0M789.4 626.1h0M776.9 627.5h0M789.2 627.5h0M777.1 628.8h0M788.9 628.8h0M777.3 630.2h0M788.7 630.2h0M777.5 631.6h0M788.4 631.6h0M777.7 632.9h0M788.1 632.9h0M777.9 634.3h0M787.9 634.3h0M778.1 635.7h0M787.6 635.7h0M778.3 637.1h0M787.3 637.1h0M778.5 638.4h0M787.1 638.4h0M778.7 639.8h0M786.8 639.8h0M778.9 641.2h0M786.6 641.2h0M779.1 642.5h0M786.3 642.5h0M779.1 643.9h0M786.3 643.9h0M779.1 645.3h0M786.3 645.3h0M779.1 646.6h0M786.3 646.6h0M779.1 648h0M786.3 648h0M776.8 653.4h0M779.5 654.5h0M784.7 653.1h0M778.8 652.9h0M781 655.1h0M783.6 654h0M779 654.4h0M781.1 653.3h0M787.7 652.1h0M780.5 654h0M787.8 652.3h0M788.2 653.4h0M780.9 650.5h0M782.4 650.4h0M777.5 652.7h0M784.7 654.5h0M777.6 651h0M786.4 652.1h0M782.2 651.2h0M778.6 652.9h0M780 654.4h0M782 653.7h0M779.7 650.8h0M786.7 649.6h0M785 651h0M780.6 653.7h0M781.3 653.8h0M782.9 653.2h0M788.3 652.2h0M782.8 655.5h0M778.1 653.1h0M779.7 649.5h0M787.5 654.2h0M781.9 652.7h0M777.7 653.5h0M779.8 654.8h0M787.5 653.9h0M782.2 651.9h0M783.5 653.3h0M785.8 650.1h0M782.2 651.2h0M786.3 655.1h0M785.5 652.5h0M779.3 650.7h0M777.8 651.6h0M784 650.2h0M780.7 651.7h0M787.6 650.2h0M785.9 653h0M786.7 653.8h0M747 561.8h0M754.9 562.2h0M751.9 567h0M741.8 581.2h0M746.2 590.3h0M842.3 558.7h0M839.2 562.4h0M852.8 559h0M864.7 559h0M818.6 566.2h0M847.2 569.9h0M877.7 569.9h0M845 576.4h0M832.3 578.4h0M818 580.2h0M813.7 580.5h0M830.4 582.1h0M849.7 582.1h0M833.8 584.6h0M883.9 587.1h0M856.8 587.9h0M815.5 587.9h0M823 590.4h0M836 591h0M855.9 594.4h0M869.6 600.1h0M824.9 601h0M835 603.7h0M845.4 606h0M819.3 606h0M810.9 610.6h0M827.3 608.5h0M839.2 610.7h0M831.1 610.9h0M855.3 612.6h0M828 614.1h0M834.6 617.2h0M875.8 619.9h0M841.3 624.4h0M821.7 622.1h0M824.2 627.7h0M827.1 635.6h0M813.4 637.7h0M898.4 574h0M918.6 592.2h0M939.8 577.8h0M897.2 606.4h0M1022.6 580.3h0M1064.9 564.3h0M1107.7 564.3h0" stroke="#6359a7" stroke-width="7.4" stroke-linecap="round" fill="none"/>
<path d="M752.8 277.3h0M756.2 299.2h0M754.4 309.8h0M733.1 327.9h0M746.3 331.2h0M757.4 341.8h0M755.2 347.8h0M754.4 399.7h0M755 416.6h0M757.2 430.3h0M736.7 446.6h0M760.6 444.8h0M759.4 447.8h0M757.8 456.2h0M758.4 460.7h0M762 463.3h0M743.1 461.5h0M737.1 467.7h0M746.9 471.7h0M760.4 485.2h0M761.8 490.6h0M759 494.6h0M751.2 496.6h0M741.9 503.1h0M738.7 507.5h0M753.4 509.5h0M764.8 512.1h0M752.2 515.9h0M762.8 518.5h0M760.4 520.8h0M746.5 526.3h0M756.3 526.9h0M764.9 534.6h0M752.2 537.9h0M757.1 539.8h0M765.3 539.4h0M736.4 544.4h0M754.9 543.1h0M760.8 542.4h0M766.8 543.9h0M750.4 547.8h0M757.1 548h0M765.7 546.9h0M766.8 549.9h0M749.3 555.8h0M763.1 556.2h0M767.9 556.2h0" stroke="#d3500c" stroke-width="7.4" stroke-linecap="round" fill="none"/>
<path d="M843.3 244.5h0M829.4 392.1h0M823.6 397.3h0M834.3 405.5h0M929.3 404.8h0M840 443.9h0M820.9 449.4h0M832.8 454h0M828.1 455.5h0M877.6 454.3h0M873.4 467h0M817.7 487h0M848.5 488.1h0M1047 438.1h0M1031.8 454h0M1001.8 485.7h0M833.7 497.2h0M810.5 498.5h0M809.3 505.2h0M881.6 499.9h0M874.8 507.5h0M909.6 494.9h0M971.8 517.5h0M942.1 532.1h0M983.3 547.3h0M1150.4 547.2h0M1193.3 529.6h0M899.6 556.4h0M807.3 518.1h0M813.7 516.9h0M816.3 520.7h0M830.1 519.2h0M825.6 523.3h0M806.9 526.6h0M812.2 525.1h0M817.8 526.3h0M807.3 528.9h0M812.9 529.6h0M815.1 533.4h0M811.4 534.5h0M821.9 533.7h0M847.2 529.6h0M860 525.2h0M879.6 534.9h0M807.3 541.6h0M826 541.2h0M806.9 545.3h0M826 547.2h0M803.2 549.8h0M807.7 548.3h0M819.6 550.5h0M836.4 550.5h0M804 554.3h0M814.4 554.9h0M821.5 554.3h0M837.5 555.7h0M850.6 547.5h0M854 542.3h0M858.5 547.8h0M872.3 547h0M883.1 551.5h0M802.6 551.5h0M802.3 556h0M810.2 531.5h0M809.5 522.5h0" stroke="#24956d" stroke-width="7.4" stroke-linecap="round" fill="none"/>
<path d="M650.3 565.3H1274" stroke="#222" stroke-width="1.75" stroke-dasharray="1.75 5.05" fill="none"/>
<rect x="940.9" y="488.6" width="105.4" height="39.3" fill="none" stroke="#000" stroke-width="3.2"/>
<text x="993.6" y="518.6" font-size="29.8" text-anchor="middle">KIF18A</text>
<path d="M894 508.1H939.5" stroke="#000" stroke-width="5.7" fill="none"/>
<path d="M893 508.1H939.3" stroke="#fff" stroke-width="0.7" fill="none"/>
<path d="M880.8 508.4L895.2 500.5V516.3Z" fill="#000"/>
<path d="M885.9 508.4L892.2 505.8V511Z" fill="#fff"/>
<text class="g" x="642.8" y="664.3" font-size="25.6" text-anchor="end">0</text>
<text class="g" x="642.8" y="525.9" font-size="25.6" text-anchor="end">2</text>
<text class="g" x="642.8" y="387.6" font-size="25.6" text-anchor="end">4</text>
<text class="g" x="642.8" y="249.2" font-size="25.6" text-anchor="end">6</text>
<text class="g" x="730.6" y="702.4" font-size="25.6" text-anchor="middle">0.0</text>
<text class="g" x="859.5" y="702.4" font-size="25.6" text-anchor="middle">2.5</text>
<text class="g" x="988.3" y="702.4" font-size="25.6" text-anchor="middle">5.0</text>
<text class="g" x="1117.2" y="702.4" font-size="25.6" text-anchor="middle">7.5</text>
<text class="g" x="1246" y="702.4" font-size="25.6" text-anchor="middle">10.0</text>
<text x="922.3" y="759.8" font-size="33.6" text-anchor="middle">Odds ratio</text>
<text transform="translate(602.3 484) rotate(-90)" font-size="35" text-anchor="middle">-log10 (p-value)</text>
<circle cx="704" cy="93.4" r="10" fill="#24956d"/>
<circle cx="704" cy="135.3" r="10" fill="#d3500c"/>
<circle cx="704" cy="177.4" r="10" fill="#6359a7"/>
<text x="726.5" y="102.9" font-size="26.3" textLength="272.6" lengthAdjust="spacingAndGlyphs">Genes essential in CIN</text>
<text x="998.8" y="94.7" font-size="17.8">High</text>
<text x="1042.9" y="102.9" font-size="26.3" textLength="53.4" lengthAdjust="spacingAndGlyphs">cells</text>
<text x="726.5" y="143.7" font-size="26.3" textLength="272.6" lengthAdjust="spacingAndGlyphs">Genes essential in CIN</text>
<text x="998.95" y="135.5" font-size="17.8">Low</text>
<text x="1037.2" y="143.7" font-size="26.3" textLength="53.4" lengthAdjust="spacingAndGlyphs">cells</text>
<text x="726.5" y="184" font-size="26.3" textLength="385.4" lengthAdjust="spacingAndGlyphs">Genes not differentially essential</text>
</g>
<g id="panel-c">
<text x="1350" y="38.5" font-size="62.5">c</text>
<g stroke="#000" stroke-width="4.8" fill="none">
<path d="M1482.7 29.1V628"/>
<path d="M1480.3 625.6H1748"/>
<path d="M1467.3 581.8H1482.7"/>
<path d="M1467.3 471.7H1482.7"/>
<path d="M1467.3 361.7H1482.7"/>
<path d="M1467.3 251.6H1482.7"/>
<path d="M1467.3 141.6H1482.7"/>
<path d="M1467.3 31.5H1482.7"/>
<path d="M1557.3 625.6V640.5"/>
<path d="M1669.9 625.6V640.5"/>
<path d="M1557.6 164V499.7M1538.8 164H1576.4M1538.8 499.7H1576.4"/>
<path d="M1670.3 143.4V581.6M1651.4 143.4H1689.2M1651.4 581.6H1689.2"/>
</g>
<g stroke="#000" stroke-width="5">
<rect x="1522.5" y="273.4" width="70.7" height="94.6" fill="#7f7f7f"/>
<path d="M1520 313.1H1595.7"/>
<rect x="1634.8" y="309.9" width="70.7" height="132.9" fill="#a1a0a3"/>
<path d="M1632.3 365.3H1708"/>
</g>
<path d="M1557 144V103H1670.4V123.7" stroke="#000" stroke-width="2.7" fill="none"/>
<text class="b" x="1595.6" y="105.4" font-size="43" letter-spacing="3.2">**</text>
<text x="1464.3" y="590.7" font-size="25.5" text-anchor="end">0.00</text>
<text x="1464.3" y="480.6" font-size="25.5" text-anchor="end">0.25</text>
<text x="1464.3" y="370.6" font-size="25.5" text-anchor="end">0.50</text>
<text x="1464.3" y="260.5" font-size="25.5" text-anchor="end">0.75</text>
<text x="1464.3" y="150.5" font-size="25.5" text-anchor="end">1.00</text>
<text x="1464.3" y="40.4" font-size="25.5" text-anchor="end">1.25</text>
<text class="b" x="1557.3" y="673.8" font-size="32.3" text-anchor="middle">Ess</text>
<text class="b" x="1670.6" y="673.8" font-size="32.3" text-anchor="middle">Non-Ess</text>
<path d="M1527.4 689H1709.6" stroke="#000" stroke-width="3.5"/>
<text x="1623" y="724.8" font-size="32.5" text-anchor="middle">KIF18A</text>
<text x="1623" y="760.3" font-size="32.5" text-anchor="middle">essentiality</text>
<text x="1623.5" y="796.4" font-size="32.5" text-anchor="middle">(RNAi)</text>
<text class="b" transform="translate(1398 329.8) rotate(-90)" font-size="32.3" text-anchor="middle">Fraction Genome Altered</text>
</g>
</svg></body></html>
